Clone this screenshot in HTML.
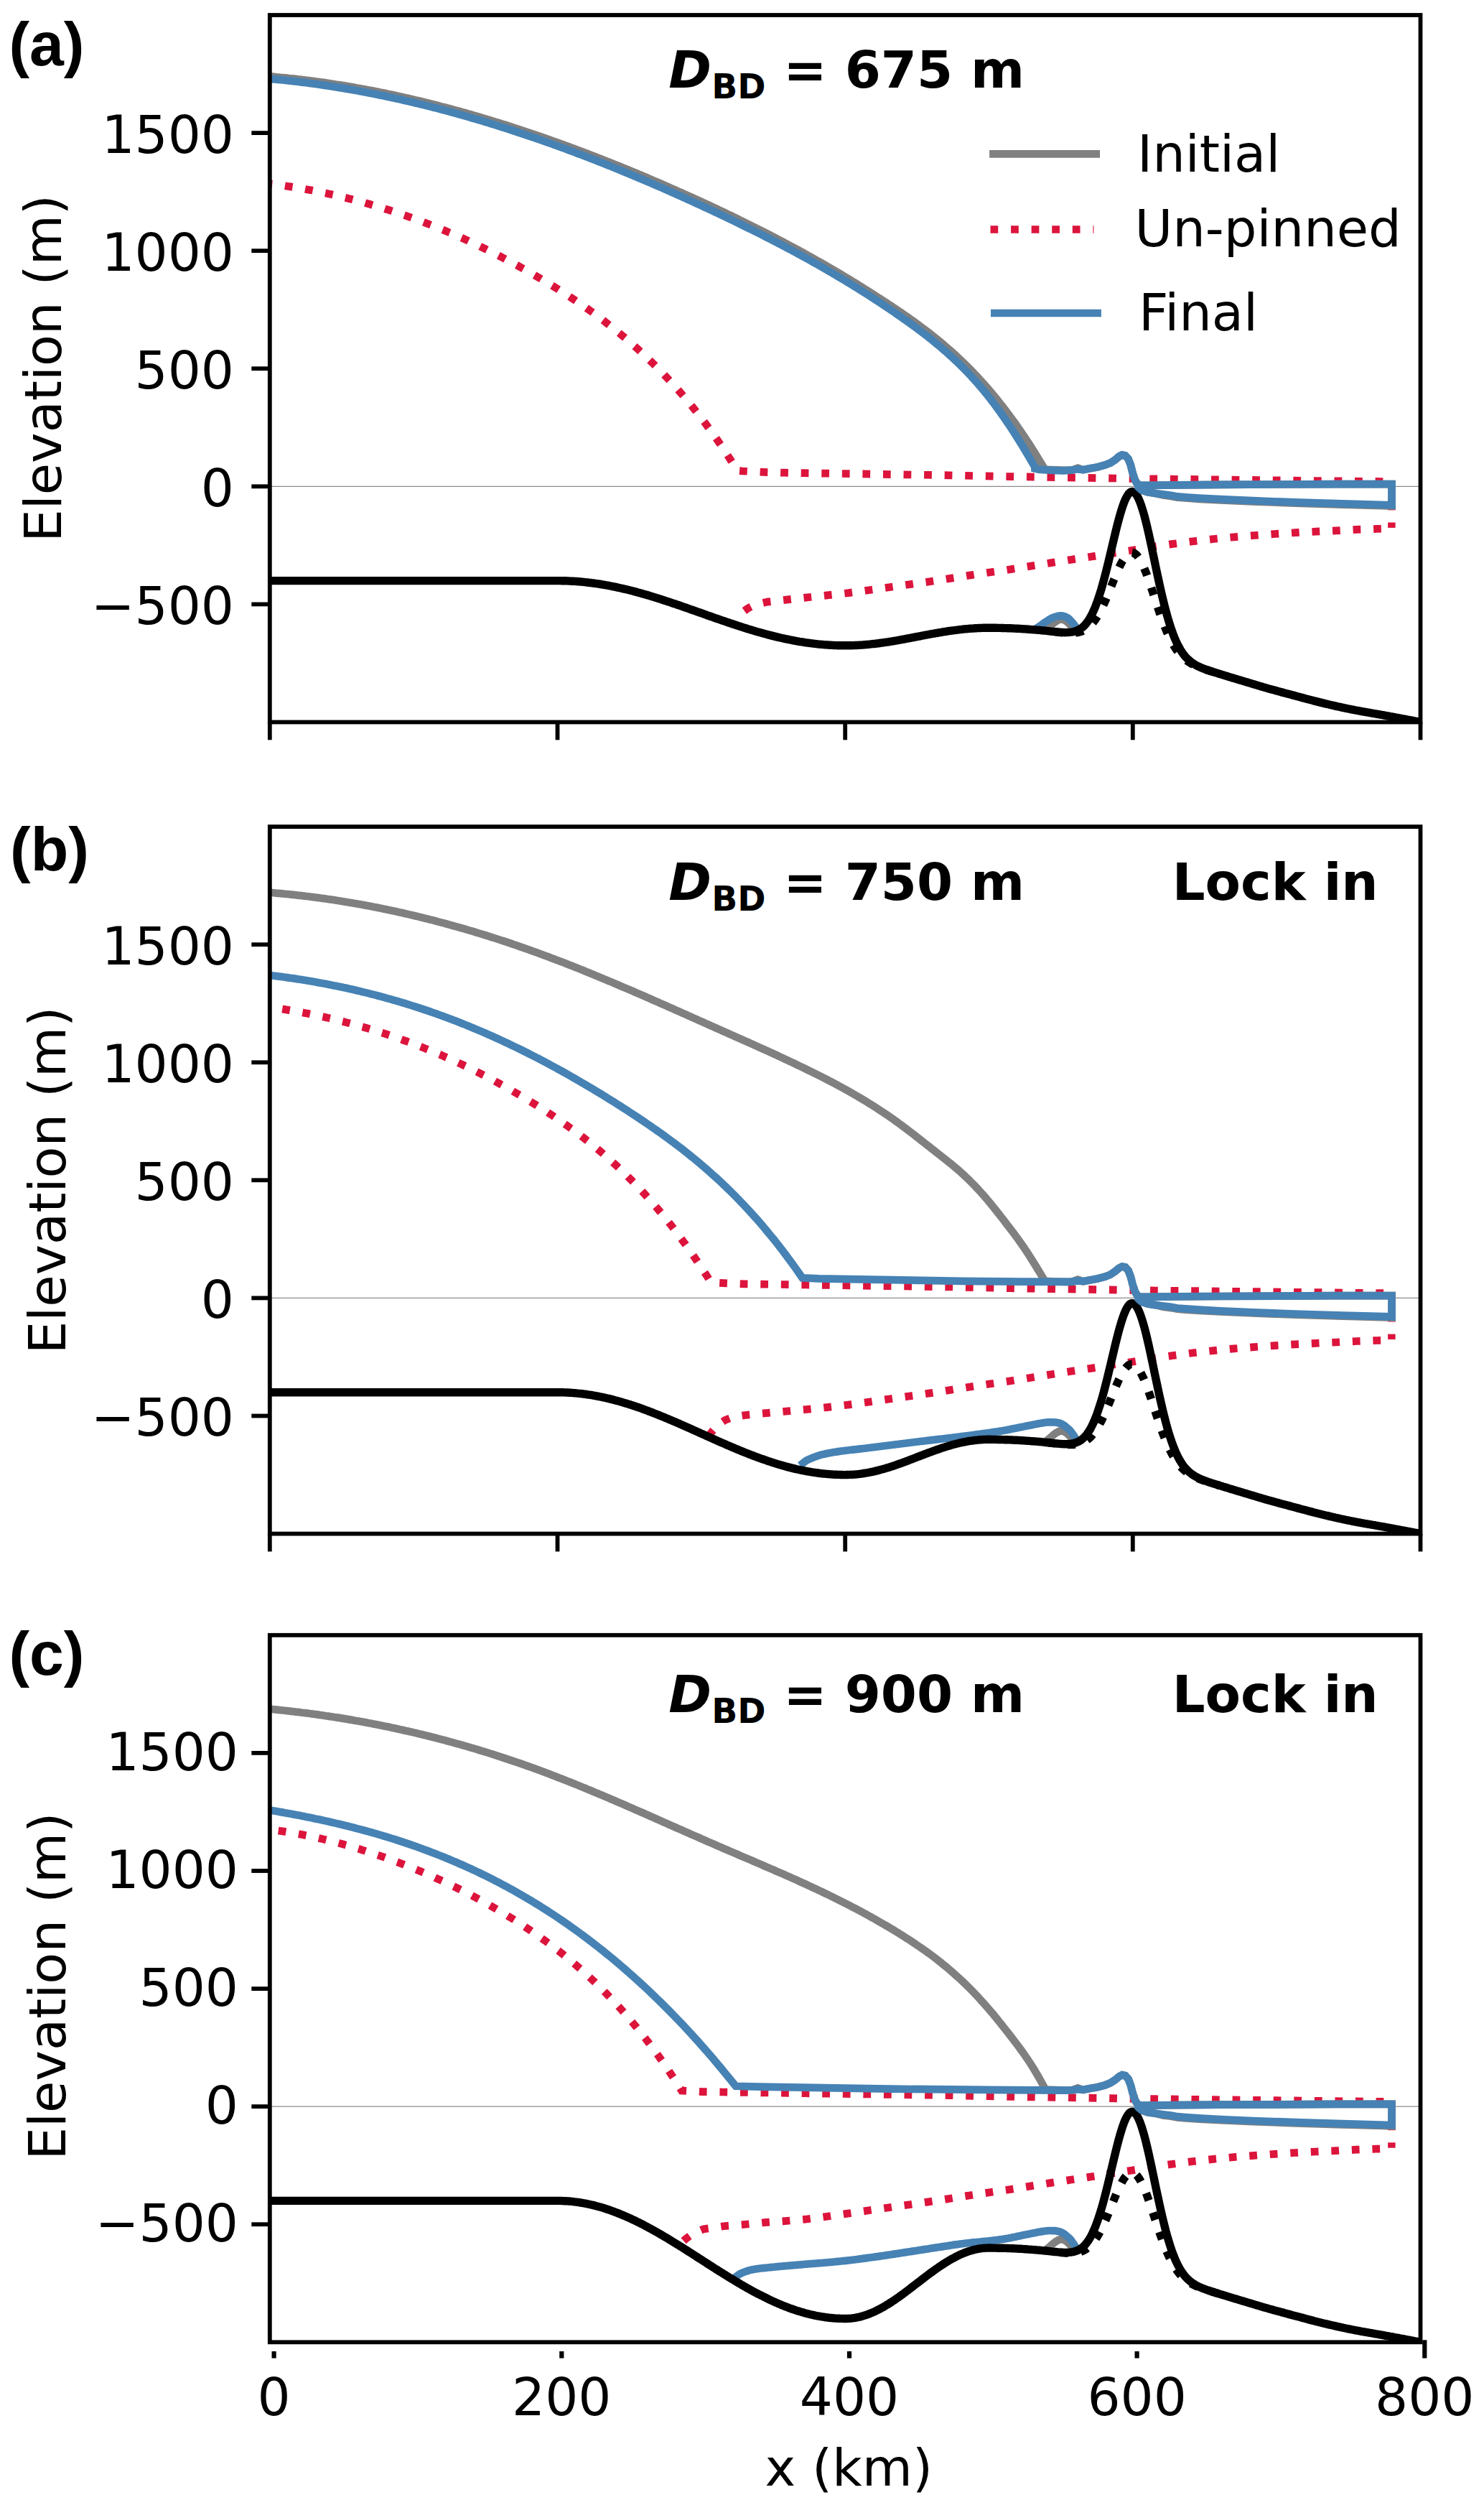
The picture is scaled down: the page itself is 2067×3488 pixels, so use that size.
<!DOCTYPE html>
<html><head><meta charset="utf-8"><title>Figure</title>
<style>html,body{margin:0;padding:0;background:#fff}svg{display:block}text{font-family:"DejaVu Sans","Liberation Sans",sans-serif;fill:#000}.h{font-family:"Liberation Sans",Arial,Helvetica,sans-serif;font-weight:bold}.b{font-weight:bold}.bi{font-weight:bold;font-style:italic}</style></head>
<body>
<svg width="2067" height="3488" viewBox="0 0 2067 3488">
<rect width="2067" height="3488" fill="#fff"/>
<g clip-path="url(#c0)">
<clipPath id="c0"><rect x="375.8" y="21.0" width="1602.7" height="984.5"/></clipPath>
<line x1="375.8" x2="1978.5" y1="677.3" y2="677.3" stroke="#8c8c8c" stroke-width="1.3"/>
<rect x="1933.1" y="727.5" width="10.5" height="7.4" fill="#dc143c"/>
<rect x="1933.1" y="708.2" width="10.7" height="2.2" fill="#dc143c"/>
<path d="M375.8,255.9 L378.8,256.3 L381.8,256.6 L384.8,257.0 L387.8,257.4 L390.8,257.9 L393.8,258.3 L396.8,258.7 L399.8,259.2 L402.8,259.6 L405.8,260.1 L408.8,260.6 L411.8,261.1 L414.8,261.6 L417.8,262.1 L420.8,262.6 L423.8,263.1 L426.8,263.7 L429.8,264.2 L432.8,264.8 L435.8,265.4 L438.8,266.0 L441.8,266.6 L444.8,267.2 L447.8,267.8 L450.8,268.4 L453.8,269.0 L456.8,269.7 L459.8,270.3 L462.8,271.0 L465.8,271.7 L468.8,272.4 L471.8,273.1 L474.8,273.8 L477.8,274.5 L480.8,275.3 L483.8,276.0 L486.8,276.8 L489.8,277.5 L492.8,278.3 L495.8,279.1 L498.8,279.9 L501.8,280.7 L504.8,281.5 L507.8,282.3 L510.8,283.2 L513.8,284.0 L516.8,284.9 L519.8,285.8 L522.8,286.7 L525.8,287.6 L528.8,288.5 L531.8,289.4 L534.8,290.3 L537.8,291.3 L540.9,292.2 L543.9,293.2 L546.9,294.2 L549.9,295.1 L552.9,296.1 L555.9,297.1 L558.9,298.2 L561.9,299.2 L564.9,300.2 L567.9,301.3 L570.9,302.3 L573.9,303.4 L576.9,304.5 L579.9,305.6 L582.9,306.7 L585.9,307.8 L588.9,308.9 L591.9,310.1 L594.9,311.2 L597.9,312.4 L600.9,313.6 L603.9,314.8 L606.9,315.9 L609.9,317.2 L612.9,318.4 L615.9,319.6 L618.9,320.8 L621.9,322.1 L624.9,323.4 L627.9,324.6 L630.9,325.9 L633.9,327.2 L636.9,328.5 L639.9,329.9 L642.9,331.2 L645.9,332.5 L648.9,333.9 L651.9,335.2 L654.9,336.6 L657.9,338.0 L660.9,339.4 L663.9,340.8 L666.9,342.2 L669.9,343.7 L672.9,345.1 L675.9,346.6 L678.9,348.1 L681.9,349.5 L684.9,351.0 L687.9,352.5 L690.9,354.0 L693.9,355.6 L696.9,357.1 L699.9,358.7 L702.9,360.2 L705.9,361.8 L708.9,363.4 L711.9,365.0 L714.9,366.6 L717.9,368.2 L720.9,369.8 L723.9,371.5 L726.9,373.1 L729.9,374.8 L732.9,376.5 L735.9,378.2 L738.9,379.9 L741.9,381.6 L744.9,383.3 L747.9,385.1 L750.9,386.8 L753.9,388.6 L756.9,390.3 L759.9,392.1 L762.9,393.9 L765.9,395.7 L768.9,397.6 L771.9,399.4 L774.9,401.3 L777.9,403.1 L780.9,405.0 L783.9,406.9 L786.9,408.8 L789.9,410.8 L792.9,412.7 L795.9,414.7 L798.9,416.7 L801.9,418.7 L804.9,420.7 L807.9,422.8 L810.9,424.8 L813.9,426.9 L816.9,429.0 L819.9,431.1 L822.9,433.3 L825.9,435.4 L828.9,437.6 L831.9,439.8 L834.9,442.1 L837.9,444.3 L840.9,446.6 L843.9,448.9 L846.9,451.3 L849.9,453.6 L852.9,456.0 L855.9,458.4 L858.9,460.8 L861.9,463.3 L865.0,465.8 L868.0,468.3 L871.0,470.8 L874.0,473.4 L877.0,476.0 L880.0,478.6 L883.0,481.3 L886.0,483.9 L889.0,486.7 L892.0,489.4 L895.0,492.2 L898.0,495.0 L901.0,497.8 L904.0,500.7 L907.0,503.6 L910.0,506.5 L913.0,509.5 L916.0,512.5 L919.0,515.5 L922.0,518.6 L925.0,521.7 L928.0,524.9 L931.0,528.1 L934.0,531.3 L937.0,534.6 L940.0,537.9 L943.0,541.2 L946.0,544.6 L949.0,548.0 L952.0,551.5 L955.0,555.0 L958.0,558.6 L961.0,562.2 L964.0,565.9 L967.0,569.6 L970.0,573.4 L973.0,577.2 L976.0,581.1 L979.0,585.0 L982.0,588.9 L985.0,593.0 L988.0,597.0 L991.0,601.2 L994.0,605.4 L997.0,609.6 L1000.0,613.9 L1003.0,618.3 L1006.0,622.7 L1009.0,627.2 L1012.0,631.7 L1015.0,636.3 L1018.0,641.0 L1021.0,645.7 L1024.0,650.5 L1027.0,655.4 L1035.1,656.0 L1063.8,657.4 L1092.4,658.2 L1121.1,658.7 L1322.0,661.8 L1407.0,663.6 L1500.0,665.1 L1610.0,666.9 L1900.0,670.3 L1938.5,670.7" fill="none" stroke="#dc143c" stroke-width="10.7" stroke-linejoin="miter" stroke-dasharray="10.75 17.82" stroke-dashoffset="7.30"/>
<path d="M1929.5,736.1 L1918.0,736.4 L1889.5,737.4 L1861.2,738.9 L1832.6,740.2 L1804.0,741.7 L1775.3,743.5 L1746.9,745.5 L1718.5,747.8 L1690.2,750.5 L1661.8,753.7 L1633.5,757.4 L1606.6,761.2 L1577.1,766.2 L1549.0,770.4 L1520.7,775.0 L1492.5,779.2 L1464.2,783.6 L1436.1,788.1 L1407.8,792.7 L1380.0,796.7 L1351.8,800.9 L1323.5,805.4 L1295.2,809.8 L1181.9,825.6 L1097.0,834.9 L1068.7,838.1 L1055.0,841.3 L1047.5,844.0 L1041.3,847.3 L1035.0,852.0 L1029.0,858.0" fill="none" stroke="#dc143c" stroke-width="10.7" stroke-linejoin="miter" stroke-dasharray="10.75 17.82" stroke-dashoffset="22.90"/>
<path d="M375.8,106.4 L378.8,106.7 L381.8,106.9 L384.8,107.2 L387.8,107.5 L390.8,107.8 L393.8,108.0 L396.8,108.3 L399.8,108.6 L402.8,109.0 L405.8,109.3 L408.8,109.6 L411.8,109.9 L414.8,110.3 L417.8,110.6 L420.9,111.0 L423.9,111.4 L426.9,111.7 L429.9,112.1 L432.9,112.5 L435.9,112.9 L438.9,113.3 L441.9,113.7 L444.9,114.1 L447.9,114.5 L450.9,114.9 L453.9,115.4 L456.9,115.8 L459.9,116.3 L462.9,116.7 L465.9,117.2 L468.9,117.7 L471.9,118.1 L474.9,118.6 L477.9,119.1 L480.9,119.6 L483.9,120.1 L486.9,120.6 L489.9,121.1 L492.9,121.6 L495.9,122.2 L498.9,122.7 L501.9,123.2 L504.9,123.8 L507.9,124.3 L511.0,124.9 L514.0,125.5 L517.0,126.0 L520.0,126.6 L523.0,127.2 L526.0,127.8 L529.0,128.4 L532.0,129.0 L535.0,129.6 L538.0,130.2 L541.0,130.9 L544.0,131.5 L547.0,132.1 L550.0,132.8 L553.0,133.4 L556.0,134.1 L559.0,134.8 L562.0,135.4 L565.0,136.1 L568.0,136.8 L571.0,137.5 L574.0,138.2 L577.0,138.9 L580.0,139.6 L583.0,140.3 L586.0,141.0 L589.0,141.7 L592.0,142.5 L595.0,143.2 L598.0,144.0 L601.1,144.7 L604.1,145.5 L607.1,146.2 L610.1,147.0 L613.1,147.8 L616.1,148.6 L619.1,149.3 L622.1,150.1 L625.1,150.9 L628.1,151.7 L631.1,152.6 L634.1,153.4 L637.1,154.2 L640.1,155.0 L643.1,155.9 L646.1,156.7 L649.1,157.5 L652.1,158.4 L655.1,159.2 L658.1,160.1 L661.1,161.0 L664.1,161.8 L667.1,162.7 L670.1,163.6 L673.1,164.5 L676.1,165.4 L679.1,166.3 L682.1,167.2 L685.1,168.1 L688.1,169.0 L691.2,170.0 L694.2,170.9 L697.2,171.8 L700.2,172.8 L703.2,173.7 L706.2,174.7 L709.2,175.6 L712.2,176.6 L715.2,177.6 L718.2,178.5 L721.2,179.5 L724.2,180.5 L727.2,181.5 L730.2,182.5 L733.2,183.5 L736.2,184.5 L739.2,185.5 L742.2,186.5 L745.2,187.5 L748.2,188.6 L751.2,189.6 L754.2,190.6 L757.2,191.7 L760.2,192.7 L763.2,193.8 L766.2,194.8 L769.2,195.9 L772.2,197.0 L775.2,198.1 L778.2,199.1 L781.3,200.2 L784.3,201.3 L787.3,202.4 L790.3,203.5 L793.3,204.6 L796.3,205.7 L799.3,206.8 L802.3,207.9 L805.3,209.1 L808.3,210.2 L811.3,211.3 L814.3,212.5 L817.3,213.6 L820.3,214.8 L823.3,215.9 L826.3,217.1 L829.3,218.2 L832.3,219.4 L835.3,220.6 L838.3,221.7 L841.3,222.9 L844.3,224.1 L847.3,225.3 L850.3,226.5 L853.3,227.7 L856.3,228.9 L859.3,230.1 L862.3,231.3 L865.3,232.5 L868.3,233.8 L871.4,235.0 L874.4,236.2 L877.4,237.5 L880.4,238.7 L883.4,239.9 L886.4,241.2 L889.4,242.5 L892.4,243.7 L895.4,245.0 L898.4,246.2 L901.4,247.5 L904.4,248.8 L907.4,250.1 L910.4,251.4 L913.4,252.6 L916.4,253.9 L919.4,255.2 L922.4,256.5 L925.4,257.8 L928.4,259.2 L931.4,260.5 L934.4,261.8 L937.4,263.1 L940.4,264.4 L943.4,265.8 L946.4,267.1 L949.4,268.4 L952.4,269.8 L955.4,271.1 L958.4,272.5 L961.5,273.8 L964.5,275.2 L967.5,276.6 L970.5,277.9 L973.5,279.3 L976.5,280.7 L979.5,282.1 L982.5,283.4 L985.5,284.8 L988.5,286.2 L991.5,287.6 L994.5,289.0 L997.5,290.4 L1000.5,291.9 L1003.5,293.3 L1006.5,294.7 L1009.5,296.1 L1012.5,297.6 L1015.5,299.0 L1018.5,300.4 L1021.5,301.9 L1024.5,303.3 L1027.5,304.8 L1030.5,306.3 L1033.5,307.7 L1036.5,309.2 L1039.5,310.7 L1042.5,312.2 L1045.5,313.7 L1048.5,315.2 L1051.6,316.7 L1054.6,318.2 L1057.6,319.7 L1060.6,321.2 L1063.6,322.7 L1066.6,324.3 L1069.6,325.8 L1072.6,327.4 L1075.6,328.9 L1078.6,330.5 L1081.6,332.0 L1084.6,333.6 L1087.6,335.2 L1090.6,336.8 L1093.6,338.4 L1096.6,340.0 L1099.6,341.6 L1102.6,343.2 L1105.6,344.8 L1108.6,346.4 L1111.6,348.0 L1114.6,349.7 L1117.6,351.3 L1120.6,353.0 L1123.6,354.6 L1126.6,356.3 L1129.6,358.0 L1132.6,359.7 L1135.6,361.4 L1138.6,363.1 L1141.7,364.8 L1144.7,366.5 L1147.7,368.2 L1150.7,369.9 L1153.7,371.7 L1156.7,373.4 L1159.7,375.1 L1162.7,376.9 L1165.7,378.7 L1168.7,380.4 L1171.7,382.2 L1174.7,384.0 L1177.7,385.8 L1180.7,387.6 L1183.7,389.4 L1186.7,391.3 L1189.7,393.1 L1192.7,394.9 L1195.7,396.8 L1198.7,398.7 L1201.7,400.5 L1204.7,402.4 L1207.7,404.3 L1210.7,406.2 L1213.7,408.1 L1216.7,410.0 L1219.7,411.9 L1222.7,413.9 L1225.7,415.8 L1228.7,417.7 L1231.8,419.7 L1234.8,421.7 L1237.8,423.7 L1240.8,425.6 L1243.8,427.6 L1246.8,429.6 L1249.8,431.7 L1252.8,433.7 L1255.8,435.7 L1258.8,437.8 L1261.8,439.9 L1264.8,442.0 L1267.8,444.1 L1270.8,446.2 L1273.8,448.4 L1276.8,450.6 L1279.8,452.8 L1282.8,455.0 L1285.8,457.2 L1288.8,459.5 L1291.8,461.8 L1294.8,464.1 L1297.8,466.5 L1300.8,468.9 L1303.8,471.3 L1306.8,473.7 L1309.8,476.2 L1312.8,478.7 L1315.8,481.3 L1318.8,483.8 L1321.9,486.5 L1324.9,489.1 L1327.9,491.8 L1330.9,494.5 L1333.9,497.3 L1336.9,500.1 L1339.9,503.0 L1342.9,505.9 L1345.9,508.8 L1348.9,511.8 L1351.9,514.8 L1354.9,517.9 L1357.9,521.1 L1360.9,524.2 L1363.9,527.5 L1366.9,530.8 L1369.9,534.1 L1372.9,537.5 L1375.9,540.9 L1378.9,544.4 L1381.9,548.0 L1384.9,551.6 L1387.9,555.2 L1390.9,559.0 L1393.9,562.8 L1396.9,566.6 L1399.9,570.5 L1402.9,574.5 L1405.9,578.5 L1408.9,582.6 L1412.0,586.7 L1415.0,590.9 L1418.0,595.2 L1421.0,599.5 L1424.0,603.9 L1427.0,608.4 L1430.0,612.9 L1433.0,617.5 L1436.0,622.2 L1439.0,626.9 L1442.0,631.7 L1445.0,636.5 L1448.0,641.5 L1451.0,646.4 L1454.0,651.5 L1457.0,653.8 L1470.0,654.4 L1485.0,654.8 L1493.5,654.6 L1497.5,653.0 L1501.3,651.6 L1505.0,653.0 L1508.5,654.2 L1528.5,650.4 L1539.3,647.5 L1546.8,644.5 L1553.3,640.2 L1558.7,635.6 L1563.0,633.4 L1567.3,634.3 L1571.6,639.1 L1574.9,647.7 L1577.6,658.5 L1580.8,668.2 L1584.0,673.6 L1587.8,675.6 L1598.6,675.8 L1640.0,675.3 L1700.0,674.9 L1860.0,674.1 L1938.5,674.0 L1938.5,704.5 L1870.0,702.6 L1804.3,700.6 L1745.0,698.4 L1700.0,696.4 L1670.0,694.8 L1651.4,693.5 L1640.0,692.6 L1631.0,691.0 L1620.2,689.6 L1609.4,687.0 L1598.6,685.4 L1590.0,682.5 L1585.5,678.5 L1583.7,676.0" fill="none" stroke="#808080" stroke-width="10.7" stroke-linejoin="miter" stroke-miterlimit="4" stroke-linecap="butt"/>
<path d="M1454.0,878.5 L1455.5,877.4 L1457.0,876.3 L1458.5,875.4 L1460.0,874.3 L1461.5,873.0 L1463.0,871.7 L1464.5,870.3 L1466.0,869.0 L1467.5,867.7 L1469.0,866.5 L1470.5,865.5 L1472.0,864.6 L1473.5,863.7 L1475.0,862.9 L1476.5,862.4 L1478.0,862.3 L1479.5,862.5 L1481.0,862.9 L1482.5,863.5 L1484.0,864.2 L1485.5,865.2 L1487.0,866.5 L1488.5,868.0 L1490.0,869.4 L1491.5,871.2 L1493.0,873.7 L1494.5,877.0" fill="none" stroke="#808080" stroke-width="10.7" stroke-linejoin="miter" stroke-miterlimit="4" stroke-linecap="butt"/>
<path d="M1439.0,877.8 L1440.5,876.8 L1442.0,875.8 L1443.5,874.9 L1445.0,873.9 L1446.6,872.9 L1448.1,871.9 L1449.6,870.8 L1451.1,869.7 L1452.6,868.6 L1454.1,867.5 L1455.6,866.5 L1457.1,865.5 L1458.7,864.5 L1460.2,863.5 L1461.7,862.5 L1463.2,861.6 L1464.7,860.8 L1466.2,860.1 L1467.7,859.6 L1469.2,859.1 L1470.8,858.6 L1472.3,858.2 L1473.8,857.8 L1475.3,857.5 L1476.8,857.4 L1478.3,857.4 L1479.8,857.5 L1481.3,857.9 L1482.9,858.4 L1484.4,859.0 L1485.9,859.7 L1487.4,860.5 L1488.9,861.7 L1490.4,863.2 L1491.9,864.8 L1493.4,866.5 L1495.0,868.3 L1496.5,870.3 L1498.0,872.4 L1499.5,874.8 L1501.0,877.5" fill="none" stroke="#4682b4" stroke-width="10.7" stroke-linejoin="miter" stroke-miterlimit="4" stroke-linecap="butt"/>
<path d="M375.8,808.6 L377.8,808.6 L379.8,808.6 L381.8,808.6 L383.8,808.6 L385.8,808.6 L387.8,808.6 L389.8,808.6 L391.8,808.6 L393.8,808.6 L395.8,808.6 L397.8,808.6 L399.8,808.6 L401.8,808.6 L403.8,808.6 L405.9,808.6 L407.9,808.6 L409.9,808.6 L411.9,808.6 L413.9,808.6 L415.9,808.6 L417.9,808.6 L419.9,808.6 L421.9,808.6 L423.9,808.6 L425.9,808.6 L427.9,808.6 L429.9,808.6 L431.9,808.6 L433.9,808.6 L435.9,808.6 L437.9,808.6 L439.9,808.6 L441.9,808.6 L443.9,808.6 L445.9,808.6 L447.9,808.6 L449.9,808.6 L451.9,808.6 L453.9,808.6 L455.9,808.6 L457.9,808.6 L459.9,808.6 L461.9,808.6 L463.9,808.6 L466.0,808.6 L468.0,808.6 L470.0,808.6 L472.0,808.6 L474.0,808.6 L476.0,808.6 L478.0,808.6 L480.0,808.6 L482.0,808.6 L484.0,808.6 L486.0,808.6 L488.0,808.6 L490.0,808.6 L492.0,808.6 L494.0,808.6 L496.0,808.6 L498.0,808.6 L500.0,808.6 L502.0,808.6 L504.0,808.6 L506.0,808.6 L508.0,808.6 L510.0,808.6 L512.0,808.6 L514.0,808.6 L516.0,808.6 L518.0,808.6 L520.0,808.6 L522.0,808.6 L524.0,808.6 L526.1,808.6 L528.1,808.6 L530.1,808.6 L532.1,808.6 L534.1,808.6 L536.1,808.6 L538.1,808.6 L540.1,808.6 L542.1,808.6 L544.1,808.6 L546.1,808.6 L548.1,808.6 L550.1,808.6 L552.1,808.6 L554.1,808.6 L556.1,808.6 L558.1,808.6 L560.1,808.6 L562.1,808.6 L564.1,808.6 L566.1,808.6 L568.1,808.6 L570.1,808.6 L572.1,808.6 L574.1,808.6 L576.1,808.6 L578.1,808.6 L580.1,808.6 L582.1,808.6 L584.2,808.6 L586.2,808.6 L588.2,808.6 L590.2,808.6 L592.2,808.6 L594.2,808.6 L596.2,808.6 L598.2,808.6 L600.2,808.6 L602.2,808.6 L604.2,808.6 L606.2,808.6 L608.2,808.6 L610.2,808.6 L612.2,808.6 L614.2,808.6 L616.2,808.6 L618.2,808.6 L620.2,808.6 L622.2,808.6 L624.2,808.6 L626.2,808.6 L628.2,808.6 L630.2,808.6 L632.2,808.6 L634.2,808.6 L636.2,808.6 L638.2,808.6 L640.2,808.6 L642.2,808.6 L644.3,808.6 L646.3,808.6 L648.3,808.6 L650.3,808.6 L652.3,808.6 L654.3,808.6 L656.3,808.6 L658.3,808.6 L660.3,808.6 L662.3,808.6 L664.3,808.6 L666.3,808.6 L668.3,808.6 L670.3,808.6 L672.3,808.6 L674.3,808.6 L676.3,808.6 L678.3,808.6 L680.3,808.6 L682.3,808.6 L684.3,808.6 L686.3,808.6 L688.3,808.6 L690.3,808.6 L692.3,808.6 L694.3,808.6 L696.3,808.6 L698.3,808.6 L700.3,808.6 L702.4,808.6 L704.4,808.6 L706.4,808.6 L708.4,808.6 L710.4,808.6 L712.4,808.6 L714.4,808.6 L716.4,808.6 L718.4,808.6 L720.4,808.6 L722.4,808.6 L724.4,808.6 L726.4,808.6 L728.4,808.6 L730.4,808.6 L732.4,808.6 L734.4,808.6 L736.4,808.6 L738.4,808.6 L740.4,808.6 L742.4,808.6 L744.4,808.6 L746.4,808.6 L748.4,808.6 L750.4,808.6 L752.4,808.6 L754.4,808.6 L756.4,808.6 L758.4,808.6 L760.4,808.6 L762.5,808.6 L764.5,808.6 L766.5,808.6 L768.5,808.6 L770.5,808.6 L772.5,808.6 L774.5,808.6 L776.5,808.6 L778.5,808.6 L780.5,808.6 L782.5,808.7 L784.5,808.7 L786.5,808.7 L788.5,808.8 L790.5,808.9 L792.5,809.0 L794.5,809.1 L796.5,809.2 L798.5,809.3 L800.5,809.4 L802.5,809.5 L804.5,809.7 L806.5,809.8 L808.5,810.0 L810.5,810.2 L812.5,810.4 L814.5,810.6 L816.5,810.8 L818.5,811.0 L820.5,811.3 L822.6,811.5 L824.6,811.8 L826.6,812.0 L828.6,812.3 L830.6,812.6 L832.6,812.9 L834.6,813.2 L836.6,813.5 L838.6,813.8 L840.6,814.2 L842.6,814.5 L844.6,814.9 L846.6,815.2 L848.6,815.6 L850.6,816.0 L852.6,816.4 L854.6,816.8 L856.6,817.2 L858.6,817.6 L860.6,818.1 L862.6,818.5 L864.6,819.0 L866.6,819.4 L868.6,819.9 L870.6,820.3 L872.6,820.8 L874.6,821.3 L876.6,821.8 L878.6,822.3 L880.7,822.8 L882.7,823.4 L884.7,823.9 L886.7,824.4 L888.7,825.0 L890.7,825.5 L892.7,826.1 L894.7,826.6 L896.7,827.2 L898.7,827.8 L900.7,828.4 L902.7,828.9 L904.7,829.5 L906.7,830.1 L908.7,830.8 L910.7,831.4 L912.7,832.0 L914.7,832.6 L916.7,833.2 L918.7,833.9 L920.7,834.5 L922.7,835.2 L924.7,835.8 L926.7,836.5 L928.7,837.1 L930.7,837.8 L932.7,838.4 L934.7,839.1 L936.7,839.8 L938.7,840.5 L940.8,841.1 L942.8,841.8 L944.8,842.5 L946.8,843.2 L948.8,843.9 L950.8,844.6 L952.8,845.3 L954.8,846.0 L956.8,846.7 L958.8,847.4 L960.8,848.1 L962.8,848.8 L964.8,849.5 L966.8,850.2 L968.8,850.9 L970.8,851.6 L972.8,852.3 L974.8,853.0 L976.8,853.7 L978.8,854.4 L980.8,855.1 L982.8,855.8 L984.8,856.6 L986.8,857.3 L988.8,858.0 L990.8,858.7 L992.8,859.4 L994.8,860.1 L996.8,860.8 L998.8,861.5 L1000.9,862.2 L1002.9,862.9 L1004.9,863.6 L1006.9,864.3 L1008.9,864.9 L1010.9,865.6 L1012.9,866.3 L1014.9,867.0 L1016.9,867.7 L1018.9,868.3 L1020.9,869.0 L1022.9,869.7 L1024.9,870.3 L1026.9,871.0 L1028.9,871.6 L1030.9,872.3 L1032.9,872.9 L1034.9,873.6 L1036.9,874.2 L1038.9,874.8 L1040.9,875.5 L1042.9,876.1 L1044.9,876.7 L1046.9,877.3 L1048.9,877.9 L1050.9,878.5 L1052.9,879.1 L1054.9,879.7 L1056.9,880.2 L1059.0,880.8 L1061.0,881.4 L1063.0,881.9 L1065.0,882.5 L1067.0,883.0 L1069.0,883.6 L1071.0,884.1 L1073.0,884.6 L1075.0,885.1 L1077.0,885.6 L1079.0,886.1 L1081.0,886.6 L1083.0,887.1 L1085.0,887.6 L1087.0,888.0 L1089.0,888.5 L1091.0,888.9 L1093.0,889.4 L1095.0,889.8 L1097.0,890.2 L1099.0,890.6 L1101.0,891.0 L1103.0,891.4 L1105.0,891.8 L1107.0,892.2 L1109.0,892.6 L1111.0,892.9 L1113.0,893.3 L1115.0,893.6 L1117.0,893.9 L1119.1,894.2 L1121.1,894.6 L1123.1,894.8 L1125.1,895.1 L1127.1,895.4 L1129.1,895.7 L1131.1,895.9 L1133.1,896.2 L1135.1,896.4 L1137.1,896.6 L1139.1,896.9 L1141.1,897.1 L1143.1,897.2 L1145.1,897.4 L1147.1,897.6 L1149.1,897.8 L1151.1,897.9 L1153.1,898.0 L1155.1,898.2 L1157.1,898.3 L1159.1,898.4 L1161.1,898.5 L1163.1,898.6 L1165.1,898.6 L1167.1,898.7 L1169.1,898.8 L1171.1,898.8 L1173.1,898.8 L1175.1,898.8 L1177.2,898.8 L1179.2,898.8 L1181.2,898.8 L1183.2,898.8 L1185.2,898.7 L1187.2,898.7 L1189.2,898.6 L1191.2,898.5 L1193.2,898.5 L1195.2,898.4 L1197.2,898.2 L1199.2,898.1 L1201.2,898.0 L1203.2,897.8 L1205.2,897.7 L1207.2,897.5 L1209.2,897.3 L1211.2,897.1 L1213.2,896.9 L1215.2,896.7 L1217.2,896.5 L1219.2,896.3 L1221.2,896.0 L1223.2,895.8 L1225.2,895.5 L1227.2,895.2 L1229.2,895.0 L1231.2,894.7 L1233.2,894.4 L1235.2,894.1 L1237.3,893.8 L1239.3,893.5 L1241.3,893.1 L1243.3,892.8 L1245.3,892.5 L1247.3,892.1 L1249.3,891.8 L1251.3,891.4 L1253.3,891.1 L1255.3,890.7 L1257.3,890.3 L1259.3,890.0 L1261.3,889.6 L1263.3,889.2 L1265.3,888.8 L1267.3,888.5 L1269.3,888.1 L1271.3,887.7 L1273.3,887.3 L1275.3,886.9 L1277.3,886.5 L1279.3,886.2 L1281.3,885.8 L1283.3,885.4 L1285.3,885.0 L1287.3,884.6 L1289.3,884.2 L1291.3,883.9 L1293.3,883.5 L1295.3,883.1 L1297.4,882.7 L1299.4,882.4 L1301.4,882.0 L1303.4,881.7 L1305.4,881.3 L1307.4,881.0 L1309.4,880.6 L1311.4,880.3 L1313.4,879.9 L1315.4,879.6 L1317.4,879.3 L1319.4,879.0 L1321.4,878.7 L1323.4,878.4 L1325.4,878.1 L1327.4,877.8 L1329.4,877.6 L1331.4,877.3 L1333.4,877.1 L1335.4,876.8 L1337.4,876.6 L1339.4,876.4 L1341.4,876.1 L1343.4,875.9 L1345.4,875.8 L1347.4,875.6 L1349.4,875.4 L1351.4,875.2 L1353.4,875.1 L1355.5,875.0 L1357.5,874.8 L1359.5,874.7 L1361.5,874.6 L1363.5,874.5 L1365.5,874.5 L1367.5,874.4 L1369.5,874.3 L1371.5,874.3 L1373.5,874.3 L1375.5,874.2 L1377.5,874.2 L1379.5,874.2 L1381.5,874.3 L1383.5,874.3 L1385.5,874.3 L1387.5,874.3 L1389.5,874.4 L1391.5,874.4 L1393.5,874.4 L1395.5,874.5 L1397.5,874.5 L1399.5,874.6 L1401.5,874.6 L1403.5,874.7 L1405.5,874.8 L1407.5,874.8 L1409.5,874.9 L1411.5,875.0 L1413.5,875.1 L1415.6,875.2 L1417.6,875.3 L1419.6,875.4 L1421.6,875.5 L1423.6,875.6 L1425.6,875.8 L1427.6,875.9 L1429.6,876.0 L1431.6,876.2 L1433.6,876.3 L1435.6,876.5 L1437.6,876.6 L1439.6,876.8 L1441.6,876.9 L1443.6,877.1 L1445.6,877.3 L1447.6,877.4 L1449.6,877.6 L1451.6,877.8 L1453.6,878.0 L1455.6,878.2 L1457.6,878.4 L1459.6,878.6 L1461.6,878.8 L1463.6,879.1 L1465.6,879.3 L1467.6,879.5 L1469.6,879.7 L1471.6,879.9 L1473.6,880.1 L1475.7,880.3 L1477.7,880.4 L1479.7,880.5 L1481.7,880.6 L1483.7,880.7 L1485.7,880.6 L1487.7,880.6 L1489.7,880.4 L1491.7,880.2 L1493.7,879.9 L1495.7,879.5 L1497.7,878.9 L1499.7,878.2 L1501.7,877.4 L1503.7,876.3 L1505.7,875.0 L1507.7,873.5 L1509.7,871.7 L1511.7,869.6 L1513.7,867.1 L1515.7,864.4 L1517.7,861.2 L1519.7,857.7 L1521.7,853.7 L1523.7,849.4 L1525.7,844.6 L1527.7,839.3 L1529.7,833.6 L1531.7,827.5 L1533.8,820.9 L1535.8,813.9 L1537.8,806.6 L1539.8,798.9 L1541.8,791.0 L1543.8,782.8 L1545.8,774.4 L1547.8,766.0 L1549.8,757.5 L1551.8,749.1 L1553.8,740.8 L1555.8,732.7 L1557.8,725.0 L1559.8,717.7 L1561.8,711.0 L1563.8,704.8 L1565.8,699.3 L1567.8,694.6 L1569.8,690.8 L1571.8,687.8 L1573.8,685.7 L1575.8,684.6 L1577.8,684.5 L1579.8,685.5 L1581.8,687.4 L1583.8,690.3 L1585.8,694.2 L1587.8,698.9 L1589.8,704.5 L1591.8,710.9 L1593.9,718.0 L1595.9,725.8 L1597.9,734.0 L1599.9,742.7 L1601.9,751.8 L1603.9,761.1 L1605.9,770.6 L1607.9,780.2 L1609.9,789.8 L1611.9,799.2 L1613.9,808.5 L1615.9,817.6 L1617.9,826.5 L1619.9,834.9 L1621.9,843.1 L1623.9,850.8 L1625.9,858.1 L1627.9,864.9 L1629.9,871.3 L1631.9,877.3 L1633.9,882.8 L1635.9,887.9 L1637.9,892.6 L1639.9,896.8 L1641.9,900.7 L1643.9,904.2 L1645.9,907.4 L1647.9,910.3 L1649.9,912.9 L1651.9,915.2 L1654.0,917.3 L1656.0,919.2 L1658.0,920.9 L1660.0,922.5 L1662.0,923.8 L1664.0,925.1 L1666.0,926.3 L1668.0,927.3 L1670.0,928.3 L1672.0,929.2 L1674.0,930.1 L1676.0,930.9 L1678.0,931.6 L1680.0,932.3 L1682.0,933.0 L1684.0,933.7 L1686.0,934.4 L1688.0,935.0 L1690.0,935.7 L1692.0,936.3 L1694.0,936.9 L1696.0,937.5 L1698.0,938.2 L1700.0,938.8 L1702.0,939.4 L1704.0,940.0 L1706.0,940.6 L1708.0,941.2 L1710.0,941.8 L1712.1,942.5 L1714.1,943.1 L1716.1,943.7 L1718.1,944.3 L1720.1,944.9 L1722.1,945.5 L1724.1,946.1 L1726.1,946.7 L1728.1,947.3 L1730.1,947.9 L1732.1,948.5 L1734.1,949.1 L1736.1,949.7 L1738.1,950.3 L1740.1,950.9 L1742.1,951.5 L1744.1,952.1 L1746.1,952.7 L1748.1,953.3 L1750.1,953.9 L1752.1,954.5 L1754.1,955.1 L1756.1,955.7 L1758.1,956.3 L1760.1,956.9 L1762.1,957.5 L1764.1,958.0 L1766.1,958.6 L1768.1,959.2 L1770.1,959.7 L1772.2,960.3 L1774.2,960.8 L1776.2,961.4 L1778.2,961.9 L1780.2,962.5 L1782.2,963.0 L1784.2,963.6 L1786.2,964.1 L1788.2,964.6 L1790.2,965.2 L1792.2,965.7 L1794.2,966.3 L1796.2,966.8 L1798.2,967.3 L1800.2,967.9 L1802.2,968.4 L1804.2,968.9 L1806.2,969.5 L1808.2,970.0 L1810.2,970.5 L1812.2,971.1 L1814.2,971.6 L1816.2,972.1 L1818.2,972.7 L1820.2,973.2 L1822.2,973.8 L1824.2,974.3 L1826.2,974.8 L1828.2,975.3 L1830.3,975.9 L1832.3,976.4 L1834.3,976.9 L1836.3,977.4 L1838.3,977.9 L1840.3,978.4 L1842.3,978.9 L1844.3,979.4 L1846.3,979.9 L1848.3,980.3 L1850.3,980.8 L1852.3,981.3 L1854.3,981.7 L1856.3,982.2 L1858.3,982.6 L1860.3,983.1 L1862.3,983.6 L1864.3,984.0 L1866.3,984.4 L1868.3,984.9 L1870.3,985.3 L1872.3,985.7 L1874.3,986.2 L1876.3,986.6 L1878.3,987.0 L1880.3,987.4 L1882.3,987.8 L1884.3,988.2 L1886.3,988.6 L1888.3,989.0 L1890.4,989.4 L1892.4,989.7 L1894.4,990.1 L1896.4,990.5 L1898.4,990.8 L1900.4,991.2 L1902.4,991.5 L1904.4,991.9 L1906.4,992.2 L1908.4,992.6 L1910.4,992.9 L1912.4,993.3 L1914.4,993.6 L1916.4,994.0 L1918.4,994.3 L1920.4,994.7 L1922.4,995.0 L1924.4,995.4 L1926.4,995.7 L1928.4,996.1 L1930.4,996.5 L1932.4,996.8 L1934.4,997.2 L1936.4,997.6 L1938.4,997.9 L1940.4,998.3 L1942.4,998.7 L1944.4,999.1 L1946.4,999.4 L1948.4,999.8 L1950.5,1000.2 L1952.5,1000.6 L1954.5,1000.9 L1956.5,1001.3 L1958.5,1001.7 L1960.5,1002.1 L1962.5,1002.4 L1964.5,1002.8 L1966.5,1003.2 L1968.5,1003.6 L1970.5,1004.0 L1972.5,1004.3 L1974.5,1004.7 L1976.5,1005.1 L1978.5,1005.5" fill="none" stroke="#000" stroke-width="11.4" stroke-linejoin="round" stroke-linecap="butt"/>
<path d="M1457.6,878.4 L1458.6,878.5 L1459.6,878.6 L1460.6,878.8 L1461.6,878.9 L1462.6,879.0 L1463.6,879.1 L1464.6,879.2 L1465.6,879.3 L1466.6,879.5 L1467.6,879.6 L1468.6,879.7 L1469.6,879.8 L1470.6,879.9 L1471.6,880.0 L1472.6,880.1 L1473.6,880.3 L1474.7,880.4 L1475.7,880.5 L1476.7,880.6 L1477.7,880.7 L1478.7,880.8 L1479.7,880.9 L1480.7,881.0 L1481.7,881.0 L1482.7,881.1 L1483.7,881.2 L1484.7,881.3 L1485.7,881.3 L1486.7,881.4 L1487.7,881.4 L1488.7,881.4 L1489.7,881.4 L1490.7,881.5 L1491.7,881.5 L1492.7,881.4 L1493.7,881.4 L1494.7,881.4 L1495.7,881.3 L1496.7,881.2 L1497.7,881.1 L1498.7,881.0 L1499.7,880.8 L1500.7,880.7 L1501.7,880.5 L1502.7,880.2 L1503.7,880.0 L1504.7,879.7 L1505.7,879.3 L1506.7,879.0 L1507.7,878.6 L1508.7,878.1 L1509.7,877.6 L1510.7,877.1 L1511.7,876.5 L1512.7,875.9 L1513.7,875.2 L1514.7,874.5 L1515.7,873.7 L1516.7,872.9 L1517.7,872.0 L1518.7,871.0 L1519.7,870.0 L1520.7,868.9 L1521.7,867.8 L1522.7,866.5 L1523.7,865.3 L1524.7,863.9 L1525.7,862.5 L1526.7,861.0 L1527.7,859.5 L1528.7,857.9 L1529.7,856.2 L1530.7,854.4 L1531.7,852.6 L1532.7,850.7 L1533.8,848.8 L1534.8,846.8 L1535.8,844.7 L1536.8,842.6 L1537.8,840.4 L1538.8,838.2 L1539.8,835.9 L1540.8,833.6 L1541.8,831.2 L1542.8,828.8 L1543.8,826.4 L1544.8,824.0 L1545.8,821.5 L1546.8,819.0 L1547.8,816.5 L1548.8,814.0 L1549.8,811.5 L1550.8,809.0 L1551.8,806.5 L1552.8,804.1 L1553.8,801.7 L1554.8,799.3 L1555.8,796.9 L1556.8,794.6 L1557.8,792.4 L1558.8,790.2 L1559.8,788.1 L1560.8,786.1 L1561.8,784.2 L1562.8,782.3 L1563.8,780.6 L1564.8,779.0 L1565.8,777.4 L1566.8,776.0 L1567.8,774.8 L1568.8,773.6 L1569.8,772.6 L1570.8,771.7 L1571.8,770.9 L1572.8,770.3 L1573.8,769.9 L1574.8,769.6 L1575.8,769.4 L1576.8,769.4 L1577.8,769.6 L1578.8,769.9 L1579.8,770.3 L1580.8,771.0 L1581.8,771.7 L1582.8,772.6 L1583.8,773.7 L1584.8,774.9 L1585.8,776.3 L1586.8,777.8 L1587.8,779.4 L1588.8,781.2 L1589.8,783.1 L1590.8,785.1 L1591.8,787.2 L1592.9,789.4 L1593.9,791.8 L1594.9,794.2 L1595.9,796.7 L1596.9,799.3 L1597.9,802.0 L1598.9,804.8 L1599.9,807.6 L1600.9,810.4 L1601.9,813.4 L1602.9,816.3 L1603.9,819.3 L1604.9,822.3 L1605.9,825.3 L1606.9,828.4 L1607.9,831.4 L1608.9,834.5 L1609.9,837.5 L1610.9,840.5 L1611.9,843.5 L1612.9,846.5 L1613.9,849.5 L1614.9,852.4 L1615.9,855.3 L1616.9,858.1 L1617.9,860.9 L1618.9,863.6 L1619.9,866.3 L1620.9,868.9 L1621.9,871.5 L1622.9,874.0 L1623.9,876.5 L1624.9,878.8 L1625.9,881.2 L1626.9,883.4 L1627.9,885.6 L1628.9,887.7 L1629.9,889.7 L1630.9,891.7 L1631.9,893.6 L1632.9,895.4 L1633.9,897.2 L1634.9,898.9 L1635.9,900.5 L1636.9,902.1 L1637.9,903.6 L1638.9,905.1 L1639.9,906.5 L1640.9,907.8 L1641.9,909.0 L1642.9,910.3 L1643.9,911.4 L1644.9,912.5 L1645.9,913.6 L1646.9,914.6 L1647.9,915.6 L1648.9,916.5 L1649.9,917.4 L1650.9,918.2 L1651.9,919.0 L1653.0,919.8 L1654.0,920.5 L1655.0,921.2 L1656.0,921.9 L1657.0,922.5 L1658.0,923.2 L1659.0,923.8 L1660.0,924.3 L1661.0,924.9 L1662.0,925.4 L1663.0,925.9 L1664.0,926.4 L1665.0,926.9 L1666.0,927.3 L1667.0,927.8 L1668.0,928.2 L1669.0,928.6 L1670.0,929.0 L1671.0,929.4 L1672.0,929.8 L1673.0,930.1 L1674.0,930.5 L1675.0,930.9 L1676.0,931.2 L1677.0,931.6 L1678.0,931.9 L1679.0,932.2 L1680.0,932.6 L1681.0,932.9 L1682.0,933.2 L1683.0,933.5 L1684.0,933.9 L1685.0,934.2 L1686.0,934.5 L1687.0,934.8 L1688.0,935.1 L1689.0,935.4 L1690.0,935.7 L1691.0,936.0 L1692.0,936.3 L1693.0,936.6 L1694.0,937.0 L1695.0,937.3 L1696.0,937.6 L1697.0,937.9 L1698.0,938.2" fill="none" stroke="#000" stroke-width="11.4" stroke-linejoin="round" stroke-dasharray="10.8 17.8" stroke-dashoffset="16.5"/>
<path d="M375.8,109.8 L378.8,110.1 L381.8,110.3 L384.8,110.6 L387.8,110.9 L390.8,111.2 L393.8,111.5 L396.8,111.8 L399.8,112.1 L402.8,112.5 L405.8,112.8 L408.8,113.1 L411.8,113.5 L414.8,113.8 L417.8,114.2 L420.8,114.6 L423.8,114.9 L426.8,115.3 L429.8,115.7 L432.8,116.1 L435.8,116.5 L438.8,116.9 L441.8,117.3 L444.8,117.8 L447.8,118.2 L450.8,118.6 L453.9,119.1 L456.9,119.5 L459.9,120.0 L462.9,120.5 L465.9,120.9 L468.9,121.4 L471.9,121.9 L474.9,122.4 L477.9,122.9 L480.9,123.4 L483.9,123.9 L486.9,124.4 L489.9,124.9 L492.9,125.5 L495.9,126.0 L498.9,126.6 L501.9,127.1 L504.9,127.7 L507.9,128.2 L510.9,128.8 L513.9,129.4 L516.9,130.0 L519.9,130.6 L522.9,131.1 L525.9,131.8 L528.9,132.4 L531.9,133.0 L534.9,133.6 L537.9,134.2 L540.9,134.9 L543.9,135.5 L546.9,136.2 L549.9,136.8 L552.9,137.5 L555.9,138.1 L558.9,138.8 L561.9,139.5 L564.9,140.2 L567.9,140.9 L570.9,141.6 L573.9,142.3 L576.9,143.0 L579.9,143.7 L582.9,144.4 L585.9,145.2 L588.9,145.9 L591.9,146.6 L594.9,147.4 L597.9,148.1 L600.9,148.9 L603.9,149.7 L607.0,150.4 L610.0,151.2 L613.0,152.0 L616.0,152.8 L619.0,153.6 L622.0,154.4 L625.0,155.2 L628.0,156.0 L631.0,156.8 L634.0,157.7 L637.0,158.5 L640.0,159.3 L643.0,160.2 L646.0,161.0 L649.0,161.9 L652.0,162.7 L655.0,163.6 L658.0,164.5 L661.0,165.3 L664.0,166.2 L667.0,167.1 L670.0,168.0 L673.0,168.9 L676.0,169.8 L679.0,170.7 L682.0,171.6 L685.0,172.6 L688.0,173.5 L691.0,174.4 L694.0,175.4 L697.0,176.3 L700.0,177.3 L703.0,178.2 L706.0,179.2 L709.0,180.1 L712.0,181.1 L715.0,182.1 L718.0,183.1 L721.0,184.1 L724.0,185.1 L727.0,186.1 L730.0,187.1 L733.0,188.1 L736.0,189.1 L739.0,190.1 L742.0,191.1 L745.0,192.2 L748.0,193.2 L751.0,194.2 L754.0,195.3 L757.1,196.3 L760.1,197.4 L763.1,198.5 L766.1,199.5 L769.1,200.6 L772.1,201.7 L775.1,202.8 L778.1,203.8 L781.1,204.9 L784.1,206.0 L787.1,207.1 L790.1,208.3 L793.1,209.4 L796.1,210.5 L799.1,211.6 L802.1,212.7 L805.1,213.9 L808.1,215.0 L811.1,216.1 L814.1,217.3 L817.1,218.4 L820.1,219.6 L823.1,220.8 L826.1,221.9 L829.1,223.1 L832.1,224.3 L835.1,225.5 L838.1,226.6 L841.1,227.8 L844.1,229.0 L847.1,230.2 L850.1,231.4 L853.1,232.6 L856.1,233.9 L859.1,235.1 L862.1,236.3 L865.1,237.5 L868.1,238.8 L871.1,240.0 L874.1,241.2 L877.1,242.5 L880.1,243.7 L883.1,245.0 L886.1,246.2 L889.1,247.5 L892.1,248.8 L895.1,250.0 L898.1,251.3 L901.1,252.6 L904.1,253.9 L907.1,255.2 L910.2,256.5 L913.2,257.8 L916.2,259.1 L919.2,260.4 L922.2,261.7 L925.2,263.0 L928.2,264.3 L931.2,265.7 L934.2,267.0 L937.2,268.3 L940.2,269.7 L943.2,271.0 L946.2,272.3 L949.2,273.7 L952.2,275.1 L955.2,276.4 L958.2,277.8 L961.2,279.1 L964.2,280.5 L967.2,281.9 L970.2,283.3 L973.2,284.6 L976.2,286.0 L979.2,287.4 L982.2,288.8 L985.2,290.2 L988.2,291.6 L991.2,293.0 L994.2,294.4 L997.2,295.8 L1000.2,297.3 L1003.2,298.7 L1006.2,300.1 L1009.2,301.5 L1012.2,303.0 L1015.2,304.4 L1018.2,305.8 L1021.2,307.3 L1024.2,308.7 L1027.2,310.2 L1030.2,311.7 L1033.2,313.1 L1036.2,314.6 L1039.2,316.1 L1042.2,317.6 L1045.2,319.0 L1048.2,320.5 L1051.2,322.0 L1054.2,323.5 L1057.2,325.0 L1060.2,326.5 L1063.3,328.1 L1066.3,329.6 L1069.3,331.1 L1072.3,332.6 L1075.3,334.2 L1078.3,335.7 L1081.3,337.3 L1084.3,338.9 L1087.3,340.4 L1090.3,342.0 L1093.3,343.6 L1096.3,345.2 L1099.3,346.8 L1102.3,348.4 L1105.3,350.0 L1108.3,351.6 L1111.3,353.2 L1114.3,354.8 L1117.3,356.5 L1120.3,358.1 L1123.3,359.8 L1126.3,361.4 L1129.3,363.1 L1132.3,364.8 L1135.3,366.5 L1138.3,368.2 L1141.3,369.9 L1144.3,371.6 L1147.3,373.3 L1150.3,375.0 L1153.3,376.8 L1156.3,378.5 L1159.3,380.3 L1162.3,382.0 L1165.3,383.8 L1168.3,385.6 L1171.3,387.4 L1174.3,389.2 L1177.3,391.0 L1180.3,392.8 L1183.3,394.6 L1186.3,396.5 L1189.3,398.3 L1192.3,400.2 L1195.3,402.0 L1198.3,403.9 L1201.3,405.8 L1204.3,407.7 L1207.3,409.6 L1210.3,411.5 L1213.4,413.5 L1216.4,415.4 L1219.4,417.4 L1222.4,419.3 L1225.4,421.3 L1228.4,423.3 L1231.4,425.3 L1234.4,427.3 L1237.4,429.3 L1240.4,431.3 L1243.4,433.4 L1246.4,435.4 L1249.4,437.5 L1252.4,439.6 L1255.4,441.7 L1258.4,443.8 L1261.4,445.9 L1264.4,448.0 L1267.4,450.2 L1270.4,452.3 L1273.4,454.5 L1276.4,456.7 L1279.4,459.0 L1282.4,461.2 L1285.4,463.5 L1288.4,465.8 L1291.4,468.1 L1294.4,470.5 L1297.4,472.9 L1300.4,475.3 L1303.4,477.8 L1306.4,480.2 L1309.4,482.8 L1312.4,485.3 L1315.4,487.9 L1318.4,490.5 L1321.4,493.2 L1324.4,495.9 L1327.4,498.7 L1330.4,501.5 L1333.4,504.3 L1336.4,507.2 L1339.4,510.2 L1342.4,513.2 L1345.4,516.2 L1348.4,519.4 L1351.4,522.5 L1354.4,525.8 L1357.4,529.1 L1360.4,532.5 L1363.4,535.9 L1366.5,539.5 L1369.5,543.1 L1372.5,546.7 L1375.5,550.5 L1378.5,554.3 L1381.5,558.2 L1384.5,562.1 L1387.5,566.2 L1390.5,570.3 L1393.5,574.4 L1396.5,578.7 L1399.5,583.0 L1402.5,587.4 L1405.5,591.8 L1408.5,596.3 L1411.5,600.9 L1414.5,605.6 L1417.5,610.3 L1420.5,615.1 L1423.5,620.0 L1426.5,624.9 L1429.5,629.9 L1432.5,634.9 L1435.5,640.1 L1438.5,645.3 L1441.5,650.5 L1441.5,652.5 L1446.5,653.6 L1460.6,654.6 L1480.0,655.3 L1490.8,654.7 L1501.0,653.3 L1509.1,654.0 L1517.7,652.3 L1528.5,650.4 L1539.3,647.5 L1546.8,644.5 L1553.3,640.2 L1558.7,635.6 L1563.0,633.4 L1567.3,634.3 L1571.6,639.1 L1574.9,647.7 L1577.6,658.5 L1580.8,668.2 L1584.0,673.6 L1587.8,675.6 L1598.6,675.8 L1640.0,675.3 L1700.0,674.9 L1860.0,674.1 L1938.5,674.0 L1938.5,703.3 L1870.0,701.4 L1804.3,699.4 L1745.0,697.2 L1700.0,695.2 L1670.0,693.6 L1651.4,692.3 L1640.0,691.4 L1631.0,689.8 L1620.2,688.4 L1609.4,687.0 L1598.6,685.4 L1590.0,682.5 L1585.5,678.5 L1583.7,676.0" fill="none" stroke="#4682b4" stroke-width="10.7" stroke-linejoin="miter" stroke-miterlimit="4" stroke-linecap="butt"/>
</g>
<rect x="375.8" y="21.0" width="1602.7" height="984.5" fill="none" stroke="#000" stroke-width="5.8"/>
<line x1="350.3" x2="375.8" y1="185.1" y2="185.1" stroke="#000" stroke-width="5.8"/>
<text x="326.0" y="212.8" font-size="72.5" text-anchor="end">1500</text>
<line x1="350.3" x2="375.8" y1="349.2" y2="349.2" stroke="#000" stroke-width="5.8"/>
<text x="326.0" y="376.9" font-size="72.5" text-anchor="end">1000</text>
<line x1="350.3" x2="375.8" y1="513.2" y2="513.2" stroke="#000" stroke-width="5.8"/>
<text x="326.0" y="541.0" font-size="72.5" text-anchor="end">500</text>
<line x1="350.3" x2="375.8" y1="677.3" y2="677.3" stroke="#000" stroke-width="5.8"/>
<text x="326.0" y="705.0" font-size="72.5" text-anchor="end">0</text>
<line x1="350.3" x2="375.8" y1="841.4" y2="841.4" stroke="#000" stroke-width="5.8"/>
<text x="326.0" y="869.1" font-size="72.5" text-anchor="end">−500</text>
<line x1="375.8" x2="375.8" y1="1005.5" y2="1030.3" stroke="#000" stroke-width="5.8"/>
<line x1="776.5" x2="776.5" y1="1005.5" y2="1030.3" stroke="#000" stroke-width="5.8"/>
<line x1="1177.2" x2="1177.2" y1="1005.5" y2="1030.3" stroke="#000" stroke-width="5.8"/>
<line x1="1577.8" x2="1577.8" y1="1005.5" y2="1030.3" stroke="#000" stroke-width="5.8"/>
<line x1="1978.5" x2="1978.5" y1="1005.5" y2="1030.3" stroke="#000" stroke-width="5.8"/>
<text transform="translate(84.9,512.9) rotate(-90)" font-size="72.0" text-anchor="middle">Elevation (m)</text>
<g clip-path="url(#c1)">
<clipPath id="c1"><rect x="375.8" y="1151.1" width="1602.7" height="984.5"/></clipPath>
<line x1="375.8" x2="1978.5" y1="1807.4" y2="1807.4" stroke="#8c8c8c" stroke-width="1.3"/>
<rect x="1933.1" y="1857.6" width="10.5" height="7.4" fill="#dc143c"/>
<rect x="1933.1" y="1838.3" width="10.7" height="2.2" fill="#dc143c"/>
<path d="M375.8,1402.4 L378.8,1402.8 L381.8,1403.2 L384.8,1403.7 L387.8,1404.1 L390.9,1404.6 L393.9,1405.1 L396.9,1405.6 L399.9,1406.1 L402.9,1406.6 L405.9,1407.1 L408.9,1407.6 L411.9,1408.1 L415.0,1408.7 L418.0,1409.2 L421.0,1409.8 L424.0,1410.4 L427.0,1411.0 L430.0,1411.6 L433.0,1412.2 L436.0,1412.8 L439.1,1413.4 L442.1,1414.0 L445.1,1414.7 L448.1,1415.4 L451.1,1416.0 L454.1,1416.7 L457.1,1417.4 L460.1,1418.1 L463.2,1418.8 L466.2,1419.5 L469.2,1420.3 L472.2,1421.0 L475.2,1421.8 L478.2,1422.5 L481.2,1423.3 L484.2,1424.1 L487.3,1424.9 L490.3,1425.7 L493.3,1426.5 L496.3,1427.4 L499.3,1428.2 L502.3,1429.1 L505.3,1429.9 L508.3,1430.8 L511.4,1431.7 L514.4,1432.6 L517.4,1433.5 L520.4,1434.4 L523.4,1435.4 L526.4,1436.3 L529.4,1437.3 L532.4,1438.2 L535.4,1439.2 L538.5,1440.2 L541.5,1441.2 L544.5,1442.2 L547.5,1443.2 L550.5,1444.3 L553.5,1445.3 L556.5,1446.4 L559.5,1447.5 L562.6,1448.6 L565.6,1449.6 L568.6,1450.8 L571.6,1451.9 L574.6,1453.0 L577.6,1454.2 L580.6,1455.3 L583.6,1456.5 L586.7,1457.7 L589.7,1458.9 L592.7,1460.1 L595.7,1461.3 L598.7,1462.5 L601.7,1463.8 L604.7,1465.0 L607.7,1466.3 L610.8,1467.6 L613.8,1468.8 L616.8,1470.1 L619.8,1471.5 L622.8,1472.8 L625.8,1474.1 L628.8,1475.5 L631.8,1476.9 L634.9,1478.2 L637.9,1479.6 L640.9,1481.0 L643.9,1482.4 L646.9,1483.9 L649.9,1485.3 L652.9,1486.8 L655.9,1488.2 L659.0,1489.7 L662.0,1491.2 L665.0,1492.7 L668.0,1494.2 L671.0,1495.8 L674.0,1497.3 L677.0,1498.9 L680.0,1500.5 L683.0,1502.0 L686.1,1503.6 L689.1,1505.2 L692.1,1506.9 L695.1,1508.5 L698.1,1510.2 L701.1,1511.8 L704.1,1513.5 L707.1,1515.2 L710.2,1516.9 L713.2,1518.6 L716.2,1520.4 L719.2,1522.1 L722.2,1523.9 L725.2,1525.6 L728.2,1527.4 L731.2,1529.2 L734.3,1531.0 L737.3,1532.9 L740.3,1534.7 L743.3,1536.6 L746.3,1538.4 L749.3,1540.3 L752.3,1542.2 L755.3,1544.1 L758.4,1546.1 L761.4,1548.0 L764.4,1550.0 L767.4,1551.9 L770.4,1553.9 L773.4,1556.0 L776.4,1558.0 L779.4,1560.1 L782.5,1562.1 L785.5,1564.2 L788.5,1566.3 L791.5,1568.5 L794.5,1570.7 L797.5,1572.8 L800.5,1575.1 L803.5,1577.3 L806.6,1579.5 L809.6,1581.8 L812.6,1584.1 L815.6,1586.5 L818.6,1588.8 L821.6,1591.2 L824.6,1593.6 L827.6,1596.1 L830.7,1598.6 L833.7,1601.1 L836.7,1603.6 L839.7,1606.2 L842.7,1608.8 L845.7,1611.4 L848.7,1614.1 L851.7,1616.8 L854.7,1619.5 L857.8,1622.3 L860.8,1625.1 L863.8,1627.9 L866.8,1630.8 L869.8,1633.7 L872.8,1636.6 L875.8,1639.6 L878.8,1642.6 L881.9,1645.7 L884.9,1648.7 L887.9,1651.9 L890.9,1655.0 L893.9,1658.3 L896.9,1661.5 L899.9,1664.8 L902.9,1668.2 L906.0,1671.5 L909.0,1675.0 L912.0,1678.4 L915.0,1681.9 L918.0,1685.5 L921.0,1689.1 L924.0,1692.7 L927.0,1696.4 L930.1,1700.2 L933.1,1704.0 L936.1,1707.8 L939.1,1711.7 L942.1,1715.6 L945.1,1719.6 L948.1,1723.7 L951.1,1727.8 L954.2,1731.9 L957.2,1736.1 L960.2,1740.3 L963.2,1744.6 L966.2,1749.0 L969.2,1753.4 L972.2,1757.8 L975.2,1762.4 L978.3,1766.9 L981.3,1771.6 L984.3,1776.2 L987.3,1781.0 L990.3,1785.8 L1007.9,1786.7 L1036.4,1787.8 L1122.0,1789.0 L1322.0,1791.9 L1407.0,1793.7 L1500.0,1795.2 L1610.0,1797.0 L1900.0,1800.4 L1938.5,1800.8" fill="none" stroke="#dc143c" stroke-width="10.7" stroke-linejoin="miter" stroke-dasharray="10.75 17.82" stroke-dashoffset="10.98"/>
<path d="M1929.5,1866.2 L1918.0,1866.5 L1889.5,1867.5 L1861.2,1869.0 L1832.6,1870.3 L1804.0,1871.8 L1775.3,1873.6 L1746.9,1875.6 L1718.5,1877.9 L1690.2,1880.6 L1661.8,1883.8 L1633.5,1887.5 L1606.6,1891.3 L1577.1,1896.3 L1549.0,1900.5 L1520.7,1905.1 L1492.5,1909.3 L1464.2,1913.7 L1436.1,1918.2 L1407.8,1922.8 L1380.0,1926.8 L1351.8,1931.0 L1323.5,1935.5 L1295.2,1939.9 L1266.9,1944.0 L1238.6,1948.0 L1207.6,1952.5 L1180.2,1956.2 L1151.7,1959.6 L1123.1,1962.5 L1094.8,1965.1 L1066.6,1967.7 L1038.0,1970.5 L1022.0,1972.9 L1010.2,1977.3 L1000.0,1984.1 L991.7,1993.3 L984.0,2004.1" fill="none" stroke="#dc143c" stroke-width="10.7" stroke-linejoin="miter" stroke-dasharray="10.75 17.82" stroke-dashoffset="22.20"/>
<path d="M375.8,1242.8 L378.8,1243.0 L381.8,1243.3 L384.8,1243.6 L387.8,1243.8 L390.8,1244.1 L393.8,1244.4 L396.8,1244.7 L399.8,1245.0 L402.8,1245.3 L405.8,1245.6 L408.8,1245.9 L411.8,1246.2 L414.8,1246.6 L417.8,1246.9 L420.9,1247.2 L423.9,1247.6 L426.9,1248.0 L429.9,1248.3 L432.9,1248.7 L435.9,1249.1 L438.9,1249.5 L441.9,1249.9 L444.9,1250.3 L447.9,1250.7 L450.9,1251.1 L453.9,1251.5 L456.9,1252.0 L459.9,1252.4 L462.9,1252.8 L465.9,1253.3 L468.9,1253.8 L471.9,1254.2 L474.9,1254.7 L477.9,1255.2 L480.9,1255.7 L483.9,1256.2 L486.9,1256.7 L489.9,1257.2 L492.9,1257.7 L495.9,1258.2 L498.9,1258.7 L501.9,1259.3 L504.9,1259.8 L507.9,1260.4 L511.0,1260.9 L514.0,1261.5 L517.0,1262.1 L520.0,1262.7 L523.0,1263.2 L526.0,1263.8 L529.0,1264.4 L532.0,1265.1 L535.0,1265.7 L538.0,1266.3 L541.0,1266.9 L544.0,1267.6 L547.0,1268.2 L550.0,1268.8 L553.0,1269.5 L556.0,1270.2 L559.0,1270.8 L562.0,1271.5 L565.0,1272.2 L568.0,1272.9 L571.0,1273.6 L574.0,1274.3 L577.0,1275.0 L580.0,1275.7 L583.0,1276.4 L586.0,1277.2 L589.0,1277.9 L592.0,1278.7 L595.0,1279.4 L598.0,1280.2 L601.1,1280.9 L604.1,1281.7 L607.1,1282.5 L610.1,1283.3 L613.1,1284.1 L616.1,1284.9 L619.1,1285.7 L622.1,1286.5 L625.1,1287.3 L628.1,1288.1 L631.1,1289.0 L634.1,1289.8 L637.1,1290.6 L640.1,1291.5 L643.1,1292.3 L646.1,1293.2 L649.1,1294.1 L652.1,1295.0 L655.1,1295.9 L658.1,1296.7 L661.1,1297.6 L664.1,1298.6 L667.1,1299.5 L670.1,1300.4 L673.1,1301.3 L676.1,1302.2 L679.1,1303.2 L682.1,1304.1 L685.1,1305.1 L688.1,1306.0 L691.2,1307.0 L694.2,1308.0 L697.2,1309.0 L700.2,1309.9 L703.2,1310.9 L706.2,1311.9 L709.2,1312.9 L712.2,1313.9 L715.2,1315.0 L718.2,1316.0 L721.2,1317.0 L724.2,1318.1 L727.2,1319.1 L730.2,1320.2 L733.2,1321.2 L736.2,1322.3 L739.2,1323.3 L742.2,1324.4 L745.2,1325.5 L748.2,1326.6 L751.2,1327.7 L754.2,1328.8 L757.2,1329.9 L760.2,1331.0 L763.2,1332.1 L766.2,1333.3 L769.2,1334.4 L772.2,1335.5 L775.2,1336.7 L778.2,1337.8 L781.3,1339.0 L784.3,1340.1 L787.3,1341.3 L790.3,1342.5 L793.3,1343.7 L796.3,1344.8 L799.3,1346.0 L802.3,1347.2 L805.3,1348.4 L808.3,1349.6 L811.3,1350.8 L814.3,1352.0 L817.3,1353.3 L820.3,1354.5 L823.3,1355.7 L826.3,1356.9 L829.3,1358.2 L832.3,1359.4 L835.3,1360.7 L838.3,1361.9 L841.3,1363.2 L844.3,1364.4 L847.3,1365.7 L850.3,1366.9 L853.3,1368.2 L856.3,1369.5 L859.3,1370.7 L862.3,1372.0 L865.3,1373.3 L868.3,1374.6 L871.4,1375.9 L874.4,1377.1 L877.4,1378.4 L880.4,1379.7 L883.4,1381.0 L886.4,1382.3 L889.4,1383.6 L892.4,1384.9 L895.4,1386.2 L898.4,1387.5 L901.4,1388.9 L904.4,1390.2 L907.4,1391.5 L910.4,1392.8 L913.4,1394.1 L916.4,1395.4 L919.4,1396.8 L922.4,1398.1 L925.4,1399.4 L928.4,1400.7 L931.4,1402.1 L934.4,1403.4 L937.4,1404.7 L940.4,1406.1 L943.4,1407.4 L946.4,1408.7 L949.4,1410.1 L952.4,1411.4 L955.4,1412.7 L958.4,1414.1 L961.5,1415.4 L964.5,1416.8 L967.5,1418.1 L970.5,1419.4 L973.5,1420.8 L976.5,1422.1 L979.5,1423.4 L982.5,1424.8 L985.5,1426.1 L988.5,1427.5 L991.5,1428.8 L994.5,1430.1 L997.5,1431.5 L1000.5,1432.8 L1003.5,1434.1 L1006.5,1435.5 L1009.5,1436.8 L1012.5,1438.1 L1015.5,1439.5 L1018.5,1440.8 L1021.5,1442.1 L1024.5,1443.5 L1027.5,1444.8 L1030.5,1446.2 L1033.5,1447.5 L1036.5,1448.8 L1039.5,1450.2 L1042.5,1451.5 L1045.5,1452.9 L1048.5,1454.2 L1051.6,1455.6 L1054.6,1456.9 L1057.6,1458.3 L1060.6,1459.6 L1063.6,1461.0 L1066.6,1462.3 L1069.6,1463.7 L1072.6,1465.1 L1075.6,1466.4 L1078.6,1467.8 L1081.6,1469.2 L1084.6,1470.6 L1087.6,1472.0 L1090.6,1473.4 L1093.6,1474.8 L1096.6,1476.2 L1099.6,1477.6 L1102.6,1479.0 L1105.6,1480.4 L1108.6,1481.9 L1111.6,1483.3 L1114.6,1484.7 L1117.6,1486.2 L1120.6,1487.6 L1123.6,1489.1 L1126.6,1490.6 L1129.6,1492.0 L1132.6,1493.5 L1135.6,1495.0 L1138.6,1496.5 L1141.7,1498.0 L1144.7,1499.5 L1147.7,1501.1 L1150.7,1502.6 L1153.7,1504.2 L1156.7,1505.7 L1159.7,1507.3 L1162.7,1508.9 L1165.7,1510.5 L1168.7,1512.1 L1171.7,1513.7 L1174.7,1515.4 L1177.7,1517.0 L1180.7,1518.7 L1183.7,1520.4 L1186.7,1522.1 L1189.7,1523.8 L1192.7,1525.5 L1195.7,1527.3 L1198.7,1529.1 L1201.7,1530.9 L1204.7,1532.7 L1207.7,1534.5 L1210.7,1536.4 L1213.7,1538.2 L1216.7,1540.1 L1219.7,1542.1 L1222.7,1544.0 L1225.7,1546.0 L1228.7,1547.9 L1231.8,1550.0 L1234.8,1552.0 L1237.8,1554.0 L1240.8,1556.1 L1243.8,1558.2 L1246.8,1560.4 L1249.8,1562.5 L1252.8,1564.7 L1255.8,1566.9 L1258.8,1569.2 L1261.8,1571.4 L1264.8,1573.7 L1267.8,1576.0 L1270.8,1578.3 L1273.8,1580.6 L1276.8,1583.0 L1279.8,1585.3 L1282.8,1587.7 L1285.8,1590.0 L1288.8,1592.4 L1291.8,1594.8 L1294.8,1597.1 L1297.8,1599.5 L1300.8,1601.8 L1303.8,1604.2 L1306.8,1606.5 L1309.8,1608.9 L1312.8,1611.2 L1315.8,1613.6 L1318.8,1616.0 L1321.9,1618.4 L1324.9,1620.8 L1327.9,1623.3 L1330.9,1625.8 L1333.9,1628.4 L1336.9,1631.0 L1339.9,1633.7 L1342.9,1636.5 L1345.9,1639.3 L1348.9,1642.2 L1351.9,1645.2 L1354.9,1648.2 L1357.9,1651.3 L1360.9,1654.5 L1363.9,1657.7 L1366.9,1661.0 L1369.9,1664.4 L1372.9,1667.8 L1375.9,1671.4 L1378.9,1674.9 L1381.9,1678.6 L1384.9,1682.3 L1387.9,1686.1 L1390.9,1689.9 L1393.9,1693.7 L1396.9,1697.6 L1399.9,1701.5 L1402.9,1705.4 L1405.9,1709.3 L1408.9,1713.2 L1412.0,1717.2 L1415.0,1721.3 L1418.0,1725.4 L1421.0,1729.6 L1424.0,1733.9 L1427.0,1738.3 L1430.0,1742.8 L1433.0,1747.4 L1436.0,1752.1 L1439.0,1756.9 L1442.0,1761.7 L1445.0,1766.6 L1448.0,1771.6 L1451.0,1776.6 L1454.0,1781.6 L1457.0,1783.9 L1470.0,1784.5 L1485.0,1784.9 L1493.5,1784.7 L1497.5,1783.1 L1501.3,1781.7 L1505.0,1783.1 L1508.5,1784.3 L1528.5,1780.5 L1539.3,1777.6 L1546.8,1774.6 L1553.3,1770.3 L1558.7,1765.7 L1563.0,1763.5 L1567.3,1764.4 L1571.6,1769.2 L1574.9,1777.8 L1577.6,1788.6 L1580.8,1798.3 L1584.0,1803.7 L1587.8,1805.7 L1598.6,1805.9 L1640.0,1805.4 L1700.0,1805.0 L1860.0,1804.2 L1938.5,1804.0 L1938.5,1834.6 L1870.0,1832.7 L1804.3,1830.7 L1745.0,1828.5 L1700.0,1826.5 L1670.0,1824.9 L1651.4,1823.6 L1640.0,1822.7 L1631.0,1821.1 L1620.2,1819.7 L1609.4,1817.1 L1598.6,1815.5 L1590.0,1812.6 L1585.5,1808.6 L1583.7,1806.1" fill="none" stroke="#808080" stroke-width="10.7" stroke-linejoin="miter" stroke-miterlimit="4" stroke-linecap="butt"/>
<path d="M1454.0,2008.6 L1455.5,2007.5 L1457.0,2006.4 L1458.5,2005.5 L1460.0,2004.4 L1461.5,2003.1 L1463.0,2001.8 L1464.5,2000.4 L1466.0,1999.1 L1467.5,1997.8 L1469.0,1996.6 L1470.5,1995.6 L1472.0,1994.7 L1473.5,1993.8 L1475.0,1993.0 L1476.5,1992.5 L1478.0,1992.4 L1479.5,1992.6 L1481.0,1993.0 L1482.5,1993.6 L1484.0,1994.3 L1485.5,1995.3 L1487.0,1996.6 L1488.5,1998.1 L1490.0,1999.5 L1491.5,2001.3 L1493.0,2003.8 L1494.5,2007.1" fill="none" stroke="#808080" stroke-width="10.7" stroke-linejoin="miter" stroke-miterlimit="4" stroke-linecap="butt"/>
<path d="M1114.0,2040.6 L1116.0,2039.3 L1118.0,2037.7 L1120.0,2035.9 L1122.0,2034.5 L1124.0,2033.3 L1126.0,2032.3 L1128.0,2031.4 L1130.0,2030.6 L1132.0,2029.7 L1134.0,2028.9 L1136.0,2028.2 L1138.0,2027.5 L1140.0,2026.8 L1142.0,2026.2 L1144.0,2025.6 L1146.0,2025.1 L1148.0,2024.7 L1150.0,2024.2 L1152.0,2023.8 L1154.0,2023.4 L1156.0,2023.0 L1158.0,2022.7 L1160.0,2022.3 L1162.0,2022.0 L1164.0,2021.7 L1166.0,2021.4 L1168.0,2021.1 L1170.0,2020.8 L1172.0,2020.5 L1174.0,2020.2 L1176.0,2020.0 L1178.0,2019.7 L1180.0,2019.5 L1182.0,2019.3 L1184.0,2019.0 L1186.0,2018.8 L1188.0,2018.6 L1190.0,2018.4 L1192.0,2018.2 L1194.0,2017.9 L1196.0,2017.7 L1198.0,2017.4 L1200.0,2017.2 L1202.0,2017.0 L1204.0,2016.7 L1206.0,2016.5 L1208.0,2016.2 L1210.0,2016.0 L1212.0,2015.8 L1214.0,2015.5 L1216.0,2015.3 L1218.0,2015.0 L1220.0,2014.8 L1222.0,2014.5 L1224.0,2014.3 L1226.0,2014.0 L1228.0,2013.8 L1230.0,2013.5 L1232.0,2013.3 L1234.0,2013.0 L1236.0,2012.8 L1238.0,2012.5 L1240.0,2012.3 L1242.0,2012.0 L1244.0,2011.8 L1246.0,2011.5 L1248.0,2011.2 L1250.0,2011.0 L1252.0,2010.7 L1254.0,2010.5 L1256.0,2010.2 L1258.0,2010.0 L1260.0,2009.7 L1262.0,2009.5 L1264.0,2009.2 L1266.0,2009.0 L1268.0,2008.7 L1270.0,2008.5 L1272.0,2008.3 L1274.0,2008.0 L1276.0,2007.8 L1278.0,2007.5 L1280.0,2007.3 L1282.0,2007.0 L1284.0,2006.8 L1286.0,2006.6 L1288.0,2006.3 L1290.0,2006.1 L1292.0,2005.8 L1294.0,2005.6 L1296.0,2005.4 L1298.0,2005.1 L1300.0,2004.9 L1302.0,2004.7 L1304.0,2004.4 L1306.0,2004.2 L1308.0,2003.9 L1310.0,2003.7 L1312.0,2003.5 L1314.0,2003.2 L1316.0,2003.0 L1318.0,2002.7 L1320.0,2002.5 L1322.0,2002.3 L1324.0,2002.0 L1326.0,2001.8 L1328.0,2001.5 L1330.0,2001.3 L1332.0,2001.0 L1334.0,2000.8 L1336.0,2000.5 L1338.0,2000.3 L1340.0,2000.0 L1342.0,1999.7 L1344.0,1999.5 L1346.0,1999.2 L1348.0,1999.0 L1350.0,1998.7 L1352.0,1998.5 L1354.0,1998.2 L1356.0,1998.0 L1358.0,1997.7 L1360.0,1997.4 L1362.0,1997.2 L1364.0,1996.9 L1366.0,1996.7 L1368.0,1996.4 L1370.0,1996.1 L1372.0,1995.8 L1374.0,1995.6 L1376.0,1995.3 L1378.0,1995.0 L1380.0,1994.7 L1382.0,1994.4 L1384.0,1994.1 L1386.0,1993.8 L1388.0,1993.5 L1390.0,1993.2 L1392.0,1992.9 L1394.0,1992.6 L1396.0,1992.3 L1398.0,1991.9 L1400.0,1991.5 L1402.0,1991.2 L1404.0,1990.8 L1406.0,1990.4 L1408.0,1990.0 L1410.0,1989.6 L1412.0,1989.2 L1414.0,1988.8 L1416.0,1988.4 L1418.0,1988.0 L1420.0,1987.6 L1422.0,1987.2 L1424.0,1986.8 L1426.0,1986.4 L1428.0,1985.9 L1430.0,1985.5 L1432.0,1985.1 L1434.0,1984.8 L1436.0,1984.4 L1438.0,1984.0 L1440.0,1983.6 L1442.0,1983.1 L1444.0,1982.7 L1446.0,1982.4 L1448.0,1982.0 L1450.0,1981.7 L1452.0,1981.4 L1454.0,1981.0 L1456.0,1980.7 L1458.0,1980.5 L1460.0,1980.3 L1462.0,1980.3 L1464.0,1980.3 L1466.0,1980.4 L1468.0,1980.4 L1470.0,1980.5 L1472.0,1980.8 L1474.0,1981.2 L1476.0,1981.7 L1478.0,1982.5 L1480.0,1983.4 L1482.0,1984.7 L1484.0,1986.3 L1486.0,1987.9 L1488.0,1989.5 L1490.0,1991.4 L1492.0,1993.9 L1494.0,1996.7 L1496.0,1999.5 L1498.0,2002.9 L1500.0,2007.6" fill="none" stroke="#4682b4" stroke-width="10.7" stroke-linejoin="miter" stroke-miterlimit="4" stroke-linecap="butt"/>
<path d="M375.8,1938.7 L377.8,1938.7 L379.8,1938.7 L381.8,1938.7 L383.8,1938.7 L385.8,1938.7 L387.8,1938.7 L389.8,1938.7 L391.8,1938.7 L393.8,1938.7 L395.8,1938.7 L397.8,1938.7 L399.8,1938.7 L401.8,1938.7 L403.8,1938.7 L405.9,1938.7 L407.9,1938.7 L409.9,1938.7 L411.9,1938.7 L413.9,1938.7 L415.9,1938.7 L417.9,1938.7 L419.9,1938.7 L421.9,1938.7 L423.9,1938.7 L425.9,1938.7 L427.9,1938.7 L429.9,1938.7 L431.9,1938.7 L433.9,1938.7 L435.9,1938.7 L437.9,1938.7 L439.9,1938.7 L441.9,1938.7 L443.9,1938.7 L445.9,1938.7 L447.9,1938.7 L449.9,1938.7 L451.9,1938.7 L453.9,1938.7 L455.9,1938.7 L457.9,1938.7 L459.9,1938.7 L461.9,1938.7 L463.9,1938.7 L466.0,1938.7 L468.0,1938.7 L470.0,1938.7 L472.0,1938.7 L474.0,1938.7 L476.0,1938.7 L478.0,1938.7 L480.0,1938.7 L482.0,1938.7 L484.0,1938.7 L486.0,1938.7 L488.0,1938.7 L490.0,1938.7 L492.0,1938.7 L494.0,1938.7 L496.0,1938.7 L498.0,1938.7 L500.0,1938.7 L502.0,1938.7 L504.0,1938.7 L506.0,1938.7 L508.0,1938.7 L510.0,1938.7 L512.0,1938.7 L514.0,1938.7 L516.0,1938.7 L518.0,1938.7 L520.0,1938.7 L522.0,1938.7 L524.0,1938.7 L526.1,1938.7 L528.1,1938.7 L530.1,1938.7 L532.1,1938.7 L534.1,1938.7 L536.1,1938.7 L538.1,1938.7 L540.1,1938.7 L542.1,1938.7 L544.1,1938.7 L546.1,1938.7 L548.1,1938.7 L550.1,1938.7 L552.1,1938.7 L554.1,1938.7 L556.1,1938.7 L558.1,1938.7 L560.1,1938.7 L562.1,1938.7 L564.1,1938.7 L566.1,1938.7 L568.1,1938.7 L570.1,1938.7 L572.1,1938.7 L574.1,1938.7 L576.1,1938.7 L578.1,1938.7 L580.1,1938.7 L582.1,1938.7 L584.2,1938.7 L586.2,1938.7 L588.2,1938.7 L590.2,1938.7 L592.2,1938.7 L594.2,1938.7 L596.2,1938.7 L598.2,1938.7 L600.2,1938.7 L602.2,1938.7 L604.2,1938.7 L606.2,1938.7 L608.2,1938.7 L610.2,1938.7 L612.2,1938.7 L614.2,1938.7 L616.2,1938.7 L618.2,1938.7 L620.2,1938.7 L622.2,1938.7 L624.2,1938.7 L626.2,1938.7 L628.2,1938.7 L630.2,1938.7 L632.2,1938.7 L634.2,1938.7 L636.2,1938.7 L638.2,1938.7 L640.2,1938.7 L642.2,1938.7 L644.3,1938.7 L646.3,1938.7 L648.3,1938.7 L650.3,1938.7 L652.3,1938.7 L654.3,1938.7 L656.3,1938.7 L658.3,1938.7 L660.3,1938.7 L662.3,1938.7 L664.3,1938.7 L666.3,1938.7 L668.3,1938.7 L670.3,1938.7 L672.3,1938.7 L674.3,1938.7 L676.3,1938.7 L678.3,1938.7 L680.3,1938.7 L682.3,1938.7 L684.3,1938.7 L686.3,1938.7 L688.3,1938.7 L690.3,1938.7 L692.3,1938.7 L694.3,1938.7 L696.3,1938.7 L698.3,1938.7 L700.3,1938.7 L702.4,1938.7 L704.4,1938.7 L706.4,1938.7 L708.4,1938.7 L710.4,1938.7 L712.4,1938.7 L714.4,1938.7 L716.4,1938.7 L718.4,1938.7 L720.4,1938.7 L722.4,1938.7 L724.4,1938.7 L726.4,1938.7 L728.4,1938.7 L730.4,1938.7 L732.4,1938.7 L734.4,1938.7 L736.4,1938.7 L738.4,1938.7 L740.4,1938.7 L742.4,1938.7 L744.4,1938.7 L746.4,1938.7 L748.4,1938.7 L750.4,1938.7 L752.4,1938.7 L754.4,1938.7 L756.4,1938.7 L758.4,1938.7 L760.4,1938.7 L762.5,1938.7 L764.5,1938.7 L766.5,1938.7 L768.5,1938.7 L770.5,1938.7 L772.5,1938.7 L774.5,1938.7 L776.5,1938.7 L778.5,1938.7 L780.5,1938.7 L782.5,1938.8 L784.5,1938.8 L786.5,1938.9 L788.5,1939.0 L790.5,1939.0 L792.5,1939.2 L794.5,1939.3 L796.5,1939.4 L798.5,1939.6 L800.5,1939.7 L802.5,1939.9 L804.5,1940.1 L806.5,1940.3 L808.5,1940.5 L810.5,1940.7 L812.5,1941.0 L814.5,1941.2 L816.5,1941.5 L818.5,1941.8 L820.5,1942.1 L822.6,1942.4 L824.6,1942.7 L826.6,1943.1 L828.6,1943.4 L830.6,1943.8 L832.6,1944.2 L834.6,1944.6 L836.6,1945.0 L838.6,1945.4 L840.6,1945.8 L842.6,1946.2 L844.6,1946.7 L846.6,1947.2 L848.6,1947.6 L850.6,1948.1 L852.6,1948.6 L854.6,1949.1 L856.6,1949.7 L858.6,1950.2 L860.6,1950.8 L862.6,1951.3 L864.6,1951.9 L866.6,1952.5 L868.6,1953.1 L870.6,1953.7 L872.6,1954.3 L874.6,1954.9 L876.6,1955.5 L878.6,1956.2 L880.7,1956.8 L882.7,1957.5 L884.7,1958.2 L886.7,1958.8 L888.7,1959.5 L890.7,1960.2 L892.7,1960.9 L894.7,1961.6 L896.7,1962.4 L898.7,1963.1 L900.7,1963.8 L902.7,1964.6 L904.7,1965.4 L906.7,1966.1 L908.7,1966.9 L910.7,1967.7 L912.7,1968.5 L914.7,1969.3 L916.7,1970.1 L918.7,1970.9 L920.7,1971.7 L922.7,1972.5 L924.7,1973.3 L926.7,1974.2 L928.7,1975.0 L930.7,1975.8 L932.7,1976.7 L934.7,1977.5 L936.7,1978.4 L938.7,1979.2 L940.8,1980.1 L942.8,1981.0 L944.8,1981.8 L946.8,1982.7 L948.8,1983.6 L950.8,1984.5 L952.8,1985.4 L954.8,1986.3 L956.8,1987.1 L958.8,1988.0 L960.8,1988.9 L962.8,1989.8 L964.8,1990.7 L966.8,1991.6 L968.8,1992.5 L970.8,1993.4 L972.8,1994.3 L974.8,1995.2 L976.8,1996.1 L978.8,1997.0 L980.8,1997.9 L982.8,1998.8 L984.8,1999.7 L986.8,2000.6 L988.8,2001.5 L990.8,2002.4 L992.8,2003.3 L994.8,2004.2 L996.8,2005.1 L998.8,2006.0 L1000.9,2006.9 L1002.9,2007.8 L1004.9,2008.7 L1006.9,2009.5 L1008.9,2010.4 L1010.9,2011.3 L1012.9,2012.2 L1014.9,2013.0 L1016.9,2013.9 L1018.9,2014.7 L1020.9,2015.6 L1022.9,2016.4 L1024.9,2017.3 L1026.9,2018.1 L1028.9,2018.9 L1030.9,2019.8 L1032.9,2020.6 L1034.9,2021.4 L1036.9,2022.2 L1038.9,2023.0 L1040.9,2023.8 L1042.9,2024.6 L1044.9,2025.4 L1046.9,2026.1 L1048.9,2026.9 L1050.9,2027.7 L1052.9,2028.4 L1054.9,2029.2 L1056.9,2029.9 L1059.0,2030.6 L1061.0,2031.3 L1063.0,2032.0 L1065.0,2032.7 L1067.0,2033.4 L1069.0,2034.1 L1071.0,2034.8 L1073.0,2035.4 L1075.0,2036.1 L1077.0,2036.7 L1079.0,2037.4 L1081.0,2038.0 L1083.0,2038.6 L1085.0,2039.2 L1087.0,2039.8 L1089.0,2040.4 L1091.0,2040.9 L1093.0,2041.5 L1095.0,2042.1 L1097.0,2042.6 L1099.0,2043.1 L1101.0,2043.6 L1103.0,2044.1 L1105.0,2044.6 L1107.0,2045.1 L1109.0,2045.6 L1111.0,2046.0 L1113.0,2046.5 L1115.0,2046.9 L1117.0,2047.3 L1119.1,2047.7 L1121.1,2048.1 L1123.1,2048.5 L1125.1,2048.8 L1127.1,2049.2 L1129.1,2049.5 L1131.1,2049.9 L1133.1,2050.2 L1135.1,2050.5 L1137.1,2050.7 L1139.1,2051.0 L1141.1,2051.3 L1143.1,2051.5 L1145.1,2051.8 L1147.1,2052.0 L1149.1,2052.2 L1151.1,2052.4 L1153.1,2052.5 L1155.1,2052.7 L1157.1,2052.9 L1159.1,2053.0 L1161.1,2053.1 L1163.1,2053.2 L1165.1,2053.3 L1167.1,2053.4 L1169.1,2053.4 L1171.1,2053.5 L1173.1,2053.5 L1175.1,2053.6 L1177.2,2053.6 L1179.2,2053.5 L1181.2,2053.5 L1183.2,2053.4 L1185.2,2053.4 L1187.2,2053.3 L1189.2,2053.1 L1191.2,2053.0 L1193.2,2052.8 L1195.2,2052.6 L1197.2,2052.4 L1199.2,2052.1 L1201.2,2051.8 L1203.2,2051.5 L1205.2,2051.2 L1207.2,2050.9 L1209.2,2050.5 L1211.2,2050.1 L1213.2,2049.7 L1215.2,2049.3 L1217.2,2048.9 L1219.2,2048.4 L1221.2,2047.9 L1223.2,2047.4 L1225.2,2046.9 L1227.2,2046.3 L1229.2,2045.8 L1231.2,2045.2 L1233.2,2044.6 L1235.2,2044.0 L1237.3,2043.4 L1239.3,2042.8 L1241.3,2042.1 L1243.3,2041.5 L1245.3,2040.8 L1247.3,2040.1 L1249.3,2039.4 L1251.3,2038.7 L1253.3,2038.0 L1255.3,2037.3 L1257.3,2036.6 L1259.3,2035.8 L1261.3,2035.1 L1263.3,2034.3 L1265.3,2033.6 L1267.3,2032.8 L1269.3,2032.0 L1271.3,2031.3 L1273.3,2030.5 L1275.3,2029.7 L1277.3,2028.9 L1279.3,2028.2 L1281.3,2027.4 L1283.3,2026.6 L1285.3,2025.9 L1287.3,2025.1 L1289.3,2024.3 L1291.3,2023.6 L1293.3,2022.8 L1295.3,2022.1 L1297.4,2021.3 L1299.4,2020.6 L1301.4,2019.9 L1303.4,2019.2 L1305.4,2018.5 L1307.4,2017.8 L1309.4,2017.1 L1311.4,2016.4 L1313.4,2015.8 L1315.4,2015.1 L1317.4,2014.5 L1319.4,2013.9 L1321.4,2013.3 L1323.4,2012.7 L1325.4,2012.1 L1327.4,2011.5 L1329.4,2011.0 L1331.4,2010.5 L1333.4,2010.0 L1335.4,2009.5 L1337.4,2009.0 L1339.4,2008.6 L1341.4,2008.2 L1343.4,2007.8 L1345.4,2007.4 L1347.4,2007.0 L1349.4,2006.7 L1351.4,2006.4 L1353.4,2006.1 L1355.5,2005.8 L1357.5,2005.5 L1359.5,2005.3 L1361.5,2005.1 L1363.5,2004.9 L1365.5,2004.8 L1367.5,2004.6 L1369.5,2004.5 L1371.5,2004.4 L1373.5,2004.4 L1375.5,2004.3 L1377.5,2004.3 L1379.5,2004.3 L1381.5,2004.4 L1383.5,2004.4 L1385.5,2004.4 L1387.5,2004.4 L1389.5,2004.5 L1391.5,2004.5 L1393.5,2004.5 L1395.5,2004.6 L1397.5,2004.6 L1399.5,2004.7 L1401.5,2004.7 L1403.5,2004.8 L1405.5,2004.9 L1407.5,2004.9 L1409.5,2005.0 L1411.5,2005.1 L1413.5,2005.2 L1415.6,2005.3 L1417.6,2005.4 L1419.6,2005.5 L1421.6,2005.6 L1423.6,2005.7 L1425.6,2005.9 L1427.6,2006.0 L1429.6,2006.1 L1431.6,2006.3 L1433.6,2006.4 L1435.6,2006.6 L1437.6,2006.7 L1439.6,2006.9 L1441.6,2007.0 L1443.6,2007.2 L1445.6,2007.4 L1447.6,2007.5 L1449.6,2007.7 L1451.6,2007.9 L1453.6,2008.1 L1455.6,2008.3 L1457.6,2008.5 L1459.6,2008.7 L1461.6,2008.9 L1463.6,2009.2 L1465.6,2009.4 L1467.6,2009.6 L1469.6,2009.8 L1471.6,2010.0 L1473.6,2010.2 L1475.7,2010.4 L1477.7,2010.5 L1479.7,2010.6 L1481.7,2010.7 L1483.7,2010.8 L1485.7,2010.7 L1487.7,2010.7 L1489.7,2010.5 L1491.7,2010.3 L1493.7,2010.0 L1495.7,2009.6 L1497.7,2009.0 L1499.7,2008.3 L1501.7,2007.5 L1503.7,2006.4 L1505.7,2005.1 L1507.7,2003.6 L1509.7,2001.8 L1511.7,1999.7 L1513.7,1997.2 L1515.7,1994.5 L1517.7,1991.3 L1519.7,1987.8 L1521.7,1983.8 L1523.7,1979.5 L1525.7,1974.7 L1527.7,1969.4 L1529.7,1963.7 L1531.7,1957.6 L1533.8,1951.0 L1535.8,1944.0 L1537.8,1936.7 L1539.8,1929.0 L1541.8,1921.1 L1543.8,1912.9 L1545.8,1904.5 L1547.8,1896.1 L1549.8,1887.6 L1551.8,1879.2 L1553.8,1870.9 L1555.8,1862.8 L1557.8,1855.1 L1559.8,1847.8 L1561.8,1841.1 L1563.8,1834.9 L1565.8,1829.4 L1567.8,1824.7 L1569.8,1820.9 L1571.8,1817.9 L1573.8,1815.8 L1575.8,1814.7 L1577.8,1814.6 L1579.8,1815.6 L1581.8,1817.5 L1583.8,1820.4 L1585.8,1824.3 L1587.8,1829.0 L1589.8,1834.6 L1591.8,1841.0 L1593.9,1848.1 L1595.9,1855.9 L1597.9,1864.1 L1599.9,1872.8 L1601.9,1881.9 L1603.9,1891.2 L1605.9,1900.7 L1607.9,1910.3 L1609.9,1919.9 L1611.9,1929.3 L1613.9,1938.6 L1615.9,1947.7 L1617.9,1956.6 L1619.9,1965.0 L1621.9,1973.2 L1623.9,1980.9 L1625.9,1988.2 L1627.9,1995.0 L1629.9,2001.4 L1631.9,2007.4 L1633.9,2012.9 L1635.9,2018.0 L1637.9,2022.7 L1639.9,2026.9 L1641.9,2030.8 L1643.9,2034.3 L1645.9,2037.5 L1647.9,2040.4 L1649.9,2043.0 L1651.9,2045.3 L1654.0,2047.4 L1656.0,2049.3 L1658.0,2051.0 L1660.0,2052.6 L1662.0,2053.9 L1664.0,2055.2 L1666.0,2056.4 L1668.0,2057.4 L1670.0,2058.4 L1672.0,2059.3 L1674.0,2060.2 L1676.0,2061.0 L1678.0,2061.7 L1680.0,2062.4 L1682.0,2063.1 L1684.0,2063.8 L1686.0,2064.5 L1688.0,2065.1 L1690.0,2065.8 L1692.0,2066.4 L1694.0,2067.0 L1696.0,2067.6 L1698.0,2068.3 L1700.0,2068.9 L1702.0,2069.5 L1704.0,2070.1 L1706.0,2070.7 L1708.0,2071.3 L1710.0,2071.9 L1712.1,2072.6 L1714.1,2073.2 L1716.1,2073.8 L1718.1,2074.4 L1720.1,2075.0 L1722.1,2075.6 L1724.1,2076.2 L1726.1,2076.8 L1728.1,2077.4 L1730.1,2078.0 L1732.1,2078.6 L1734.1,2079.2 L1736.1,2079.8 L1738.1,2080.4 L1740.1,2081.0 L1742.1,2081.6 L1744.1,2082.2 L1746.1,2082.8 L1748.1,2083.4 L1750.1,2084.0 L1752.1,2084.6 L1754.1,2085.2 L1756.1,2085.8 L1758.1,2086.4 L1760.1,2087.0 L1762.1,2087.6 L1764.1,2088.1 L1766.1,2088.7 L1768.1,2089.3 L1770.1,2089.8 L1772.2,2090.4 L1774.2,2090.9 L1776.2,2091.5 L1778.2,2092.0 L1780.2,2092.6 L1782.2,2093.1 L1784.2,2093.7 L1786.2,2094.2 L1788.2,2094.7 L1790.2,2095.3 L1792.2,2095.8 L1794.2,2096.4 L1796.2,2096.9 L1798.2,2097.4 L1800.2,2098.0 L1802.2,2098.5 L1804.2,2099.0 L1806.2,2099.6 L1808.2,2100.1 L1810.2,2100.6 L1812.2,2101.2 L1814.2,2101.7 L1816.2,2102.2 L1818.2,2102.8 L1820.2,2103.3 L1822.2,2103.9 L1824.2,2104.4 L1826.2,2104.9 L1828.2,2105.4 L1830.3,2106.0 L1832.3,2106.5 L1834.3,2107.0 L1836.3,2107.5 L1838.3,2108.0 L1840.3,2108.5 L1842.3,2109.0 L1844.3,2109.5 L1846.3,2110.0 L1848.3,2110.4 L1850.3,2110.9 L1852.3,2111.4 L1854.3,2111.8 L1856.3,2112.3 L1858.3,2112.7 L1860.3,2113.2 L1862.3,2113.7 L1864.3,2114.1 L1866.3,2114.5 L1868.3,2115.0 L1870.3,2115.4 L1872.3,2115.8 L1874.3,2116.3 L1876.3,2116.7 L1878.3,2117.1 L1880.3,2117.5 L1882.3,2117.9 L1884.3,2118.3 L1886.3,2118.7 L1888.3,2119.1 L1890.4,2119.5 L1892.4,2119.8 L1894.4,2120.2 L1896.4,2120.6 L1898.4,2120.9 L1900.4,2121.3 L1902.4,2121.6 L1904.4,2122.0 L1906.4,2122.3 L1908.4,2122.7 L1910.4,2123.0 L1912.4,2123.4 L1914.4,2123.7 L1916.4,2124.1 L1918.4,2124.4 L1920.4,2124.8 L1922.4,2125.1 L1924.4,2125.5 L1926.4,2125.8 L1928.4,2126.2 L1930.4,2126.6 L1932.4,2126.9 L1934.4,2127.3 L1936.4,2127.7 L1938.4,2128.0 L1940.4,2128.4 L1942.4,2128.8 L1944.4,2129.2 L1946.4,2129.5 L1948.4,2129.9 L1950.5,2130.3 L1952.5,2130.7 L1954.5,2131.0 L1956.5,2131.4 L1958.5,2131.8 L1960.5,2132.2 L1962.5,2132.5 L1964.5,2132.9 L1966.5,2133.3 L1968.5,2133.7 L1970.5,2134.1 L1972.5,2134.4 L1974.5,2134.8 L1976.5,2135.2 L1978.5,2135.6" fill="none" stroke="#000" stroke-width="11.4" stroke-linejoin="round" stroke-linecap="butt"/>
<path d="M1457.6,2008.5 L1458.6,2008.6 L1459.6,2008.7 L1460.6,2008.9 L1461.6,2009.0 L1462.6,2009.1 L1463.6,2009.2 L1464.6,2009.3 L1465.6,2009.4 L1466.6,2009.6 L1467.6,2009.7 L1468.6,2009.8 L1469.6,2009.9 L1470.6,2010.0 L1471.6,2010.1 L1472.6,2010.2 L1473.6,2010.4 L1474.7,2010.5 L1475.7,2010.6 L1476.7,2010.7 L1477.7,2010.8 L1478.7,2010.9 L1479.7,2011.0 L1480.7,2011.1 L1481.7,2011.1 L1482.7,2011.2 L1483.7,2011.3 L1484.7,2011.4 L1485.7,2011.4 L1486.7,2011.5 L1487.7,2011.5 L1488.7,2011.5 L1489.7,2011.5 L1490.7,2011.6 L1491.7,2011.6 L1492.7,2011.5 L1493.7,2011.5 L1494.7,2011.5 L1495.7,2011.4 L1496.7,2011.3 L1497.7,2011.2 L1498.7,2011.1 L1499.7,2010.9 L1500.7,2010.8 L1501.7,2010.6 L1502.7,2010.3 L1503.7,2010.1 L1504.7,2009.8 L1505.7,2009.4 L1506.7,2009.1 L1507.7,2008.7 L1508.7,2008.2 L1509.7,2007.7 L1510.7,2007.2 L1511.7,2006.6 L1512.7,2006.0 L1513.7,2005.3 L1514.7,2004.6 L1515.7,2003.8 L1516.7,2003.0 L1517.7,2002.1 L1518.7,2001.1 L1519.7,2000.1 L1520.7,1999.0 L1521.7,1997.9 L1522.7,1996.6 L1523.7,1995.4 L1524.7,1994.0 L1525.7,1992.6 L1526.7,1991.1 L1527.7,1989.6 L1528.7,1988.0 L1529.7,1986.3 L1530.7,1984.5 L1531.7,1982.7 L1532.7,1980.8 L1533.8,1978.9 L1534.8,1976.9 L1535.8,1974.8 L1536.8,1972.7 L1537.8,1970.5 L1538.8,1968.3 L1539.8,1966.0 L1540.8,1963.7 L1541.8,1961.3 L1542.8,1958.9 L1543.8,1956.5 L1544.8,1954.1 L1545.8,1951.6 L1546.8,1949.1 L1547.8,1946.6 L1548.8,1944.1 L1549.8,1941.6 L1550.8,1939.1 L1551.8,1936.6 L1552.8,1934.2 L1553.8,1931.8 L1554.8,1929.4 L1555.8,1927.0 L1556.8,1924.7 L1557.8,1922.5 L1558.8,1920.3 L1559.8,1918.2 L1560.8,1916.2 L1561.8,1914.3 L1562.8,1912.4 L1563.8,1910.7 L1564.8,1909.1 L1565.8,1907.5 L1566.8,1906.1 L1567.8,1904.9 L1568.8,1903.7 L1569.8,1902.7 L1570.8,1901.8 L1571.8,1901.0 L1572.8,1900.4 L1573.8,1900.0 L1574.8,1899.7 L1575.8,1899.5 L1576.8,1899.5 L1577.8,1899.7 L1578.8,1900.0 L1579.8,1900.4 L1580.8,1901.1 L1581.8,1901.8 L1582.8,1902.7 L1583.8,1903.8 L1584.8,1905.0 L1585.8,1906.4 L1586.8,1907.9 L1587.8,1909.5 L1588.8,1911.3 L1589.8,1913.2 L1590.8,1915.2 L1591.8,1917.3 L1592.9,1919.5 L1593.9,1921.9 L1594.9,1924.3 L1595.9,1926.8 L1596.9,1929.4 L1597.9,1932.1 L1598.9,1934.9 L1599.9,1937.7 L1600.9,1940.5 L1601.9,1943.5 L1602.9,1946.4 L1603.9,1949.4 L1604.9,1952.4 L1605.9,1955.4 L1606.9,1958.5 L1607.9,1961.5 L1608.9,1964.6 L1609.9,1967.6 L1610.9,1970.6 L1611.9,1973.6 L1612.9,1976.6 L1613.9,1979.6 L1614.9,1982.5 L1615.9,1985.4 L1616.9,1988.2 L1617.9,1991.0 L1618.9,1993.7 L1619.9,1996.4 L1620.9,1999.0 L1621.9,2001.6 L1622.9,2004.1 L1623.9,2006.6 L1624.9,2008.9 L1625.9,2011.3 L1626.9,2013.5 L1627.9,2015.7 L1628.9,2017.8 L1629.9,2019.8 L1630.9,2021.8 L1631.9,2023.7 L1632.9,2025.5 L1633.9,2027.3 L1634.9,2029.0 L1635.9,2030.6 L1636.9,2032.2 L1637.9,2033.7 L1638.9,2035.2 L1639.9,2036.6 L1640.9,2037.9 L1641.9,2039.1 L1642.9,2040.4 L1643.9,2041.5 L1644.9,2042.6 L1645.9,2043.7 L1646.9,2044.7 L1647.9,2045.7 L1648.9,2046.6 L1649.9,2047.5 L1650.9,2048.3 L1651.9,2049.1 L1653.0,2049.9 L1654.0,2050.6 L1655.0,2051.3 L1656.0,2052.0 L1657.0,2052.6 L1658.0,2053.3 L1659.0,2053.9 L1660.0,2054.4 L1661.0,2055.0 L1662.0,2055.5 L1663.0,2056.0 L1664.0,2056.5 L1665.0,2057.0 L1666.0,2057.4 L1667.0,2057.9 L1668.0,2058.3 L1669.0,2058.7 L1670.0,2059.1 L1671.0,2059.5 L1672.0,2059.9 L1673.0,2060.2 L1674.0,2060.6 L1675.0,2061.0 L1676.0,2061.3 L1677.0,2061.7 L1678.0,2062.0 L1679.0,2062.3 L1680.0,2062.7 L1681.0,2063.0 L1682.0,2063.3 L1683.0,2063.6 L1684.0,2064.0 L1685.0,2064.3 L1686.0,2064.6 L1687.0,2064.9 L1688.0,2065.2 L1689.0,2065.5 L1690.0,2065.8 L1691.0,2066.1 L1692.0,2066.4 L1693.0,2066.7 L1694.0,2067.1 L1695.0,2067.4 L1696.0,2067.7 L1697.0,2068.0 L1698.0,2068.3" fill="none" stroke="#000" stroke-width="11.4" stroke-linejoin="round" stroke-dasharray="10.8 17.8" stroke-dashoffset="27.6"/>
<path d="M375.8,1358.0 L378.8,1358.4 L381.8,1358.7 L384.8,1359.1 L387.8,1359.5 L390.9,1359.9 L393.9,1360.3 L396.9,1360.7 L399.9,1361.1 L402.9,1361.6 L405.9,1362.0 L408.9,1362.4 L411.9,1362.9 L414.9,1363.4 L418.0,1363.8 L421.0,1364.3 L424.0,1364.8 L427.0,1365.3 L430.0,1365.8 L433.0,1366.3 L436.0,1366.8 L439.0,1367.3 L442.0,1367.9 L445.1,1368.4 L448.1,1369.0 L451.1,1369.5 L454.1,1370.1 L457.1,1370.7 L460.1,1371.3 L463.1,1371.9 L466.1,1372.5 L469.1,1373.1 L472.2,1373.7 L475.2,1374.3 L478.2,1375.0 L481.2,1375.6 L484.2,1376.3 L487.2,1377.0 L490.2,1377.6 L493.2,1378.3 L496.2,1379.0 L499.2,1379.7 L502.3,1380.4 L505.3,1381.2 L508.3,1381.9 L511.3,1382.6 L514.3,1383.4 L517.3,1384.2 L520.3,1384.9 L523.3,1385.7 L526.3,1386.5 L529.4,1387.3 L532.4,1388.1 L535.4,1388.9 L538.4,1389.8 L541.4,1390.6 L544.4,1391.4 L547.4,1392.3 L550.4,1393.2 L553.4,1394.0 L556.5,1394.9 L559.5,1395.8 L562.5,1396.7 L565.5,1397.7 L568.5,1398.6 L571.5,1399.5 L574.5,1400.5 L577.5,1401.4 L580.5,1402.4 L583.6,1403.4 L586.6,1404.4 L589.6,1405.4 L592.6,1406.4 L595.6,1407.4 L598.6,1408.4 L601.6,1409.5 L604.6,1410.5 L607.6,1411.6 L610.7,1412.7 L613.7,1413.8 L616.7,1414.8 L619.7,1416.0 L622.7,1417.1 L625.7,1418.2 L628.7,1419.3 L631.7,1420.5 L634.7,1421.6 L637.8,1422.8 L640.8,1424.0 L643.8,1425.2 L646.8,1426.4 L649.8,1427.6 L652.8,1428.8 L655.8,1430.1 L658.8,1431.3 L661.8,1432.6 L664.9,1433.9 L667.9,1435.1 L670.9,1436.4 L673.9,1437.7 L676.9,1439.0 L679.9,1440.4 L682.9,1441.7 L685.9,1443.0 L688.9,1444.4 L692.0,1445.7 L695.0,1447.1 L698.0,1448.5 L701.0,1449.9 L704.0,1451.3 L707.0,1452.7 L710.0,1454.1 L713.0,1455.6 L716.0,1457.0 L719.1,1458.5 L722.1,1459.9 L725.1,1461.4 L728.1,1462.9 L731.1,1464.4 L734.1,1465.9 L737.1,1467.4 L740.1,1468.9 L743.1,1470.5 L746.2,1472.0 L749.2,1473.6 L752.2,1475.1 L755.2,1476.7 L758.2,1478.3 L761.2,1479.9 L764.2,1481.5 L767.2,1483.1 L770.2,1484.8 L773.2,1486.4 L776.3,1488.0 L779.3,1489.7 L782.3,1491.3 L785.3,1493.0 L788.3,1494.7 L791.3,1496.4 L794.3,1498.1 L797.3,1499.8 L800.3,1501.5 L803.4,1503.3 L806.4,1505.0 L809.4,1506.8 L812.4,1508.5 L815.4,1510.3 L818.4,1512.1 L821.4,1513.8 L824.4,1515.6 L827.4,1517.5 L830.5,1519.3 L833.5,1521.1 L836.5,1522.9 L839.5,1524.8 L842.5,1526.6 L845.5,1528.5 L848.5,1530.4 L851.5,1532.2 L854.5,1534.1 L857.6,1536.0 L860.6,1537.9 L863.6,1539.8 L866.6,1541.8 L869.6,1543.7 L872.6,1545.6 L875.6,1547.6 L878.6,1549.6 L881.6,1551.5 L884.7,1553.5 L887.7,1555.5 L890.7,1557.5 L893.7,1559.5 L896.7,1561.5 L899.7,1563.6 L902.7,1565.6 L905.7,1567.7 L908.7,1569.8 L911.8,1571.9 L914.8,1574.0 L917.8,1576.1 L920.8,1578.2 L923.8,1580.4 L926.8,1582.6 L929.8,1584.7 L932.8,1587.0 L935.8,1589.2 L938.9,1591.4 L941.9,1593.7 L944.9,1596.0 L947.9,1598.3 L950.9,1600.6 L953.9,1603.0 L956.9,1605.4 L959.9,1607.8 L962.9,1610.2 L966.0,1612.6 L969.0,1615.1 L972.0,1617.6 L975.0,1620.1 L978.0,1622.7 L981.0,1625.3 L984.0,1627.9 L987.0,1630.5 L990.0,1633.2 L993.0,1635.9 L996.1,1638.6 L999.1,1641.3 L1002.1,1644.1 L1005.1,1646.9 L1008.1,1649.8 L1011.1,1652.7 L1014.1,1655.6 L1017.1,1658.5 L1020.1,1661.5 L1023.2,1664.5 L1026.2,1667.6 L1029.2,1670.6 L1032.2,1673.8 L1035.2,1676.9 L1038.2,1680.1 L1041.2,1683.3 L1044.2,1686.6 L1047.2,1689.9 L1050.3,1693.3 L1053.3,1696.6 L1056.3,1700.1 L1059.3,1703.5 L1062.3,1707.0 L1065.3,1710.6 L1068.3,1714.2 L1071.3,1717.8 L1074.3,1721.5 L1077.4,1725.2 L1080.4,1729.0 L1083.4,1732.8 L1086.4,1736.7 L1089.4,1740.6 L1092.4,1744.5 L1095.4,1748.5 L1098.4,1752.6 L1101.4,1756.7 L1104.5,1760.8 L1107.5,1765.0 L1110.5,1769.3 L1113.5,1773.6 L1116.5,1777.9 L1117.5,1779.4 L1140.0,1780.4 L1340.0,1783.8 L1423.0,1784.7 L1484.0,1784.9 L1490.8,1784.8 L1501.0,1783.4 L1509.1,1784.1 L1517.7,1782.4 L1528.5,1780.5 L1539.3,1777.6 L1546.8,1774.6 L1553.3,1770.3 L1558.7,1765.7 L1563.0,1763.5 L1567.3,1764.4 L1571.6,1769.2 L1574.9,1777.8 L1577.6,1788.6 L1580.8,1798.3 L1584.0,1803.7 L1587.8,1805.7 L1598.6,1805.9 L1640.0,1805.4 L1700.0,1805.0 L1860.0,1804.2 L1938.5,1804.0 L1938.5,1833.4 L1870.0,1831.5 L1804.3,1829.5 L1745.0,1827.3 L1700.0,1825.3 L1670.0,1823.7 L1651.4,1822.4 L1640.0,1821.5 L1631.0,1819.9 L1620.2,1818.5 L1609.4,1817.1 L1598.6,1815.5 L1590.0,1812.6 L1585.5,1808.6 L1583.7,1806.1" fill="none" stroke="#4682b4" stroke-width="10.7" stroke-linejoin="miter" stroke-miterlimit="4" stroke-linecap="butt"/>
</g>
<rect x="375.8" y="1151.1" width="1602.7" height="984.5" fill="none" stroke="#000" stroke-width="5.8"/>
<line x1="350.3" x2="375.8" y1="1315.2" y2="1315.2" stroke="#000" stroke-width="5.8"/>
<text x="326.0" y="1342.9" font-size="72.5" text-anchor="end">1500</text>
<line x1="350.3" x2="375.8" y1="1479.3" y2="1479.3" stroke="#000" stroke-width="5.8"/>
<text x="326.0" y="1507.0" font-size="72.5" text-anchor="end">1000</text>
<line x1="350.3" x2="375.8" y1="1643.3" y2="1643.3" stroke="#000" stroke-width="5.8"/>
<text x="326.0" y="1671.0" font-size="72.5" text-anchor="end">500</text>
<line x1="350.3" x2="375.8" y1="1807.4" y2="1807.4" stroke="#000" stroke-width="5.8"/>
<text x="326.0" y="1835.1" font-size="72.5" text-anchor="end">0</text>
<line x1="350.3" x2="375.8" y1="1971.5" y2="1971.5" stroke="#000" stroke-width="5.8"/>
<text x="326.0" y="1999.2" font-size="72.5" text-anchor="end">−500</text>
<line x1="375.8" x2="375.8" y1="2135.6" y2="2160.4" stroke="#000" stroke-width="5.8"/>
<line x1="776.5" x2="776.5" y1="2135.6" y2="2160.4" stroke="#000" stroke-width="5.8"/>
<line x1="1177.2" x2="1177.2" y1="2135.6" y2="2160.4" stroke="#000" stroke-width="5.8"/>
<line x1="1577.8" x2="1577.8" y1="2135.6" y2="2160.4" stroke="#000" stroke-width="5.8"/>
<line x1="1978.5" x2="1978.5" y1="2135.6" y2="2160.4" stroke="#000" stroke-width="5.8"/>
<text transform="translate(90.8,1643.5) rotate(-90)" font-size="72.0" text-anchor="middle">Elevation (m)</text>
<g clip-path="url(#c2)">
<clipPath id="c2"><rect x="375.8" y="2276.8" width="1602.7" height="984.5"/></clipPath>
<line x1="375.8" x2="1978.5" y1="2933.1" y2="2933.1" stroke="#8c8c8c" stroke-width="1.3"/>
<rect x="1933.1" y="2983.3" width="10.5" height="7.4" fill="#dc143c"/>
<rect x="1933.1" y="2964.0" width="10.7" height="2.2" fill="#dc143c"/>
<path d="M375.8,2547.5 L378.8,2547.9 L381.8,2548.3 L384.8,2548.7 L387.8,2549.1 L390.8,2549.5 L393.8,2549.9 L396.8,2550.4 L399.8,2550.9 L402.8,2551.4 L405.8,2551.9 L408.8,2552.4 L411.8,2552.9 L414.8,2553.5 L417.8,2554.0 L420.8,2554.6 L423.9,2555.2 L426.9,2555.8 L429.9,2556.4 L432.9,2557.0 L435.9,2557.7 L438.9,2558.3 L441.9,2559.0 L444.9,2559.7 L447.9,2560.4 L450.9,2561.1 L453.9,2561.8 L456.9,2562.5 L459.9,2563.3 L462.9,2564.0 L465.9,2564.8 L468.9,2565.6 L471.9,2566.4 L474.9,2567.2 L477.9,2568.0 L480.9,2568.9 L483.9,2569.7 L486.9,2570.6 L489.9,2571.5 L492.9,2572.4 L495.9,2573.3 L498.9,2574.2 L501.9,2575.1 L504.9,2576.1 L507.9,2577.0 L510.9,2578.0 L513.9,2578.9 L516.9,2579.9 L520.0,2580.9 L523.0,2581.9 L526.0,2583.0 L529.0,2584.0 L532.0,2585.0 L535.0,2586.1 L538.0,2587.2 L541.0,2588.3 L544.0,2589.3 L547.0,2590.5 L550.0,2591.6 L553.0,2592.7 L556.0,2593.8 L559.0,2595.0 L562.0,2596.1 L565.0,2597.3 L568.0,2598.5 L571.0,2599.7 L574.0,2600.9 L577.0,2602.1 L580.0,2603.3 L583.0,2604.6 L586.0,2605.8 L589.0,2607.1 L592.0,2608.4 L595.0,2609.7 L598.0,2611.0 L601.0,2612.3 L604.0,2613.6 L607.0,2615.0 L610.0,2616.3 L613.0,2617.7 L616.1,2619.1 L619.1,2620.4 L622.1,2621.9 L625.1,2623.3 L628.1,2624.7 L631.1,2626.2 L634.1,2627.6 L637.1,2629.1 L640.1,2630.6 L643.1,2632.1 L646.1,2633.6 L649.1,2635.1 L652.1,2636.7 L655.1,2638.2 L658.1,2639.8 L661.1,2641.4 L664.1,2643.0 L667.1,2644.6 L670.1,2646.2 L673.1,2647.9 L676.1,2649.5 L679.1,2651.2 L682.1,2652.9 L685.1,2654.6 L688.1,2656.4 L691.1,2658.1 L694.1,2659.9 L697.1,2661.6 L700.1,2663.4 L703.1,2665.2 L706.1,2667.0 L709.1,2668.9 L712.2,2670.7 L715.2,2672.6 L718.2,2674.5 L721.2,2676.4 L724.2,2678.3 L727.2,2680.3 L730.2,2682.2 L733.2,2684.2 L736.2,2686.2 L739.2,2688.2 L742.2,2690.3 L745.2,2692.3 L748.2,2694.4 L751.2,2696.5 L754.2,2698.7 L757.2,2700.8 L760.2,2703.0 L763.2,2705.2 L766.2,2707.4 L769.2,2709.7 L772.2,2712.0 L775.2,2714.3 L778.2,2716.6 L781.2,2719.0 L784.2,2721.3 L787.2,2723.8 L790.2,2726.2 L793.2,2728.7 L796.2,2731.2 L799.2,2733.7 L802.2,2736.3 L805.2,2738.9 L808.3,2741.5 L811.3,2744.2 L814.3,2746.8 L817.3,2749.6 L820.3,2752.3 L823.3,2755.1 L826.3,2757.9 L829.3,2760.8 L832.3,2763.7 L835.3,2766.6 L838.3,2769.6 L841.3,2772.6 L844.3,2775.6 L847.3,2778.7 L850.3,2781.8 L853.3,2785.0 L856.3,2788.2 L859.3,2791.4 L862.3,2794.7 L865.3,2798.0 L868.3,2801.4 L871.3,2804.8 L874.3,2808.3 L877.3,2811.7 L880.3,2815.3 L883.3,2818.9 L886.3,2822.5 L889.3,2826.2 L892.3,2829.9 L895.3,2833.7 L898.3,2837.5 L901.3,2841.4 L904.4,2845.3 L907.4,2849.3 L910.4,2853.4 L913.4,2857.5 L916.4,2861.6 L919.4,2865.8 L922.4,2870.1 L925.4,2874.4 L928.4,2878.7 L931.4,2883.2 L934.4,2887.7 L937.4,2892.2 L940.4,2896.8 L943.4,2901.5 L946.4,2906.2 L949.4,2911.0 L957.1,2911.4 L979.3,2912.6 L1006.4,2913.0 L1122.0,2914.7 L1322.0,2917.6 L1407.0,2919.4 L1500.0,2920.9 L1610.0,2922.7 L1900.0,2926.1 L1938.5,2926.5" fill="none" stroke="#dc143c" stroke-width="10.7" stroke-linejoin="miter" stroke-dasharray="10.75 17.82" stroke-dashoffset="16.58"/>
<path d="M1929.5,2991.9 L1918.0,2992.2 L1889.5,2993.2 L1861.2,2994.7 L1832.6,2996.0 L1804.0,2997.5 L1775.3,2999.3 L1746.9,3001.3 L1718.5,3003.6 L1690.2,3006.3 L1661.8,3009.5 L1633.5,3013.2 L1606.6,3017.0 L1577.1,3022.0 L1549.0,3026.2 L1520.7,3030.8 L1492.5,3035.0 L1464.2,3039.4 L1436.1,3043.9 L1407.8,3048.5 L1380.0,3052.5 L1351.8,3056.7 L1323.5,3061.2 L1295.2,3065.6 L1266.9,3069.7 L1238.6,3073.7 L1210.2,3077.8 L1178.8,3082.4 L1150.4,3086.5 L1121.8,3090.2 L1093.4,3092.6 L1064.8,3094.6 L1035.6,3097.5 L1008.0,3099.7 L979.4,3104.0 L965.0,3110.3 L955.3,3117.3 L942.0,3129.8" fill="none" stroke="#dc143c" stroke-width="10.7" stroke-linejoin="miter" stroke-dasharray="10.75 17.82" stroke-dashoffset="21.20"/>
<path d="M375.8,2379.7 L378.8,2380.0 L381.8,2380.3 L384.8,2380.6 L387.8,2380.9 L390.8,2381.2 L393.8,2381.5 L396.8,2381.8 L399.8,2382.2 L402.9,2382.5 L405.9,2382.9 L408.9,2383.2 L411.9,2383.6 L414.9,2383.9 L417.9,2384.3 L420.9,2384.7 L423.9,2385.0 L426.9,2385.4 L429.9,2385.8 L432.9,2386.2 L435.9,2386.6 L438.9,2387.0 L441.9,2387.4 L444.9,2387.9 L447.9,2388.3 L451.0,2388.7 L454.0,2389.2 L457.0,2389.6 L460.0,2390.1 L463.0,2390.5 L466.0,2391.0 L469.0,2391.4 L472.0,2391.9 L475.0,2392.4 L478.0,2392.9 L481.0,2393.4 L484.0,2393.9 L487.0,2394.4 L490.0,2394.9 L493.0,2395.4 L496.0,2396.0 L499.1,2396.5 L502.1,2397.0 L505.1,2397.6 L508.1,2398.1 L511.1,2398.7 L514.1,2399.3 L517.1,2399.8 L520.1,2400.4 L523.1,2401.0 L526.1,2401.6 L529.1,2402.2 L532.1,2402.8 L535.1,2403.4 L538.1,2404.0 L541.1,2404.6 L544.1,2405.3 L547.1,2405.9 L550.2,2406.5 L553.2,2407.2 L556.2,2407.9 L559.2,2408.5 L562.2,2409.2 L565.2,2409.9 L568.2,2410.5 L571.2,2411.2 L574.2,2411.9 L577.2,2412.6 L580.2,2413.3 L583.2,2414.1 L586.2,2414.8 L589.2,2415.5 L592.2,2416.2 L595.2,2417.0 L598.3,2417.7 L601.3,2418.5 L604.3,2419.3 L607.3,2420.0 L610.3,2420.8 L613.3,2421.6 L616.3,2422.4 L619.3,2423.2 L622.3,2424.0 L625.3,2424.8 L628.3,2425.6 L631.3,2426.4 L634.3,2427.3 L637.3,2428.1 L640.3,2428.9 L643.3,2429.8 L646.4,2430.6 L649.4,2431.5 L652.4,2432.4 L655.4,2433.3 L658.4,2434.1 L661.4,2435.0 L664.4,2435.9 L667.4,2436.8 L670.4,2437.8 L673.4,2438.7 L676.4,2439.6 L679.4,2440.5 L682.4,2441.5 L685.4,2442.4 L688.4,2443.4 L691.4,2444.3 L694.4,2445.3 L697.5,2446.3 L700.5,2447.3 L703.5,2448.3 L706.5,2449.3 L709.5,2450.3 L712.5,2451.3 L715.5,2452.3 L718.5,2453.3 L721.5,2454.4 L724.5,2455.4 L727.5,2456.4 L730.5,2457.5 L733.5,2458.6 L736.5,2459.6 L739.5,2460.7 L742.5,2461.8 L745.6,2462.9 L748.6,2464.0 L751.6,2465.1 L754.6,2466.2 L757.6,2467.3 L760.6,2468.5 L763.6,2469.6 L766.6,2470.7 L769.6,2471.9 L772.6,2473.0 L775.6,2474.2 L778.6,2475.4 L781.6,2476.5 L784.6,2477.7 L787.6,2478.9 L790.6,2480.1 L793.7,2481.3 L796.7,2482.5 L799.7,2483.7 L802.7,2484.9 L805.7,2486.1 L808.7,2487.4 L811.7,2488.6 L814.7,2489.8 L817.7,2491.1 L820.7,2492.3 L823.7,2493.5 L826.7,2494.8 L829.7,2496.1 L832.7,2497.3 L835.7,2498.6 L838.7,2499.8 L841.7,2501.1 L844.8,2502.4 L847.8,2503.7 L850.8,2505.0 L853.8,2506.2 L856.8,2507.5 L859.8,2508.8 L862.8,2510.1 L865.8,2511.4 L868.8,2512.7 L871.8,2514.0 L874.8,2515.3 L877.8,2516.6 L880.8,2517.9 L883.8,2519.3 L886.8,2520.6 L889.8,2521.9 L892.9,2523.2 L895.9,2524.5 L898.9,2525.9 L901.9,2527.2 L904.9,2528.5 L907.9,2529.8 L910.9,2531.2 L913.9,2532.5 L916.9,2533.8 L919.9,2535.1 L922.9,2536.5 L925.9,2537.8 L928.9,2539.1 L931.9,2540.5 L934.9,2541.8 L937.9,2543.1 L941.0,2544.5 L944.0,2545.8 L947.0,2547.1 L950.0,2548.4 L953.0,2549.8 L956.0,2551.1 L959.0,2552.4 L962.0,2553.8 L965.0,2555.1 L968.0,2556.4 L971.0,2557.7 L974.0,2559.0 L977.0,2560.4 L980.0,2561.7 L983.0,2563.0 L986.0,2564.3 L989.1,2565.6 L992.1,2566.9 L995.1,2568.2 L998.1,2569.6 L1001.1,2570.9 L1004.1,2572.2 L1007.1,2573.5 L1010.1,2574.8 L1013.1,2576.0 L1016.1,2577.3 L1019.1,2578.6 L1022.1,2579.9 L1025.1,2581.2 L1028.1,2582.5 L1031.1,2583.8 L1034.1,2585.1 L1037.1,2586.4 L1040.2,2587.6 L1043.2,2588.9 L1046.2,2590.2 L1049.2,2591.5 L1052.2,2592.8 L1055.2,2594.1 L1058.2,2595.4 L1061.2,2596.7 L1064.2,2598.0 L1067.2,2599.3 L1070.2,2600.6 L1073.2,2601.9 L1076.2,2603.2 L1079.2,2604.5 L1082.2,2605.8 L1085.2,2607.1 L1088.3,2608.4 L1091.3,2609.7 L1094.3,2611.1 L1097.3,2612.4 L1100.3,2613.7 L1103.3,2615.1 L1106.3,2616.4 L1109.3,2617.7 L1112.3,2619.1 L1115.3,2620.5 L1118.3,2621.8 L1121.3,2623.2 L1124.3,2624.6 L1127.3,2626.0 L1130.3,2627.4 L1133.3,2628.8 L1136.4,2630.2 L1139.4,2631.6 L1142.4,2633.0 L1145.4,2634.4 L1148.4,2635.9 L1151.4,2637.3 L1154.4,2638.8 L1157.4,2640.2 L1160.4,2641.7 L1163.4,2643.2 L1166.4,2644.7 L1169.4,2646.2 L1172.4,2647.7 L1175.4,2649.2 L1178.4,2650.7 L1181.4,2652.3 L1184.4,2653.8 L1187.5,2655.4 L1190.5,2656.9 L1193.5,2658.5 L1196.5,2660.1 L1199.5,2661.7 L1202.5,2663.4 L1205.5,2665.0 L1208.5,2666.6 L1211.5,2668.3 L1214.5,2670.0 L1217.5,2671.6 L1220.5,2673.3 L1223.5,2675.1 L1226.5,2676.8 L1229.5,2678.5 L1232.5,2680.3 L1235.6,2682.0 L1238.6,2683.8 L1241.6,2685.6 L1244.6,2687.4 L1247.6,2689.3 L1250.6,2691.1 L1253.6,2693.0 L1256.6,2694.8 L1259.6,2696.7 L1262.6,2698.7 L1265.6,2700.6 L1268.6,2702.5 L1271.6,2704.5 L1274.6,2706.5 L1277.6,2708.6 L1280.6,2710.6 L1283.7,2712.7 L1286.7,2714.8 L1289.7,2716.9 L1292.7,2719.1 L1295.7,2721.3 L1298.7,2723.5 L1301.7,2725.8 L1304.7,2728.1 L1307.7,2730.5 L1310.7,2732.8 L1313.7,2735.3 L1316.7,2737.7 L1319.7,2740.2 L1322.7,2742.8 L1325.7,2745.4 L1328.7,2748.0 L1331.7,2750.7 L1334.8,2753.4 L1337.8,2756.2 L1340.8,2759.0 L1343.8,2761.9 L1346.8,2764.8 L1349.8,2767.8 L1352.8,2770.8 L1355.8,2773.9 L1358.8,2777.0 L1361.8,2780.2 L1364.8,2783.5 L1367.8,2786.8 L1370.8,2790.1 L1373.8,2793.5 L1376.8,2797.0 L1379.8,2800.5 L1382.9,2804.1 L1385.9,2807.7 L1388.9,2811.4 L1391.9,2815.2 L1394.9,2818.9 L1397.9,2822.7 L1400.9,2826.5 L1403.9,2830.3 L1406.9,2834.1 L1409.9,2838.0 L1412.9,2841.9 L1415.9,2845.9 L1418.9,2849.9 L1421.9,2854.0 L1424.9,2858.2 L1427.9,2862.5 L1431.0,2866.9 L1434.0,2871.4 L1437.0,2876.1 L1440.0,2880.9 L1443.0,2885.9 L1446.0,2891.0 L1449.0,2896.3 L1452.0,2901.8 L1455.0,2907.3 L1457.0,2909.6 L1470.0,2910.2 L1485.0,2910.6 L1493.5,2910.4 L1497.5,2908.8 L1501.3,2907.4 L1505.0,2908.8 L1508.5,2910.0 L1528.5,2906.2 L1539.3,2903.3 L1546.8,2900.3 L1553.3,2896.0 L1558.7,2891.4 L1563.0,2889.2 L1567.3,2890.1 L1571.6,2894.9 L1574.9,2903.5 L1577.6,2914.3 L1580.8,2924.0 L1584.0,2929.4 L1587.8,2931.4 L1598.6,2931.6 L1640.0,2931.1 L1700.0,2930.7 L1860.0,2929.9 L1938.5,2929.8 L1938.5,2960.3 L1870.0,2958.4 L1804.3,2956.4 L1745.0,2954.2 L1700.0,2952.2 L1670.0,2950.6 L1651.4,2949.3 L1640.0,2948.4 L1631.0,2946.8 L1620.2,2945.4 L1609.4,2942.8 L1598.6,2941.2 L1590.0,2938.3 L1585.5,2934.3 L1583.7,2931.8" fill="none" stroke="#808080" stroke-width="10.7" stroke-linejoin="miter" stroke-miterlimit="4" stroke-linecap="butt"/>
<path d="M1454.0,3134.3 L1455.5,3133.2 L1457.0,3132.1 L1458.5,3131.2 L1460.0,3130.1 L1461.5,3128.8 L1463.0,3127.5 L1464.5,3126.1 L1466.0,3124.8 L1467.5,3123.5 L1469.0,3122.3 L1470.5,3121.3 L1472.0,3120.4 L1473.5,3119.5 L1475.0,3118.7 L1476.5,3118.2 L1478.0,3118.1 L1479.5,3118.3 L1481.0,3118.7 L1482.5,3119.3 L1484.0,3120.0 L1485.5,3121.0 L1487.0,3122.3 L1488.5,3123.8 L1490.0,3125.2 L1491.5,3127.0 L1493.0,3129.5 L1494.5,3132.8" fill="none" stroke="#808080" stroke-width="10.7" stroke-linejoin="miter" stroke-miterlimit="4" stroke-linecap="butt"/>
<path d="M1021.0,3173.3 L1023.0,3171.7 L1025.0,3170.2 L1027.0,3168.7 L1029.0,3167.2 L1031.0,3166.0 L1033.0,3165.1 L1035.0,3164.2 L1037.0,3163.5 L1039.0,3162.8 L1041.0,3162.1 L1043.0,3161.4 L1045.1,3160.9 L1047.1,3160.4 L1049.1,3160.0 L1051.1,3159.7 L1053.1,3159.3 L1055.1,3159.1 L1057.1,3158.8 L1059.1,3158.5 L1061.1,3158.3 L1063.1,3158.1 L1065.1,3157.9 L1067.1,3157.7 L1069.1,3157.5 L1071.1,3157.3 L1073.1,3157.1 L1075.1,3156.9 L1077.1,3156.7 L1079.1,3156.5 L1081.1,3156.3 L1083.1,3156.1 L1085.1,3155.9 L1087.1,3155.7 L1089.1,3155.5 L1091.1,3155.3 L1093.2,3155.2 L1095.2,3155.0 L1097.2,3154.8 L1099.2,3154.7 L1101.2,3154.5 L1103.2,3154.3 L1105.2,3154.2 L1107.2,3154.0 L1109.2,3153.8 L1111.2,3153.7 L1113.2,3153.5 L1115.2,3153.3 L1117.2,3153.2 L1119.2,3153.0 L1121.2,3152.8 L1123.2,3152.6 L1125.2,3152.5 L1127.2,3152.3 L1129.2,3152.1 L1131.2,3152.0 L1133.2,3151.8 L1135.2,3151.7 L1137.2,3151.5 L1139.2,3151.3 L1141.3,3151.2 L1143.3,3151.0 L1145.3,3150.9 L1147.3,3150.7 L1149.3,3150.5 L1151.3,3150.4 L1153.3,3150.2 L1155.3,3150.0 L1157.3,3149.9 L1159.3,3149.7 L1161.3,3149.5 L1163.3,3149.3 L1165.3,3149.1 L1167.3,3148.9 L1169.3,3148.7 L1171.3,3148.5 L1173.3,3148.3 L1175.3,3148.1 L1177.3,3147.9 L1179.3,3147.7 L1181.3,3147.4 L1183.3,3147.2 L1185.3,3147.0 L1187.3,3146.7 L1189.4,3146.5 L1191.4,3146.2 L1193.4,3146.0 L1195.4,3145.7 L1197.4,3145.4 L1199.4,3145.2 L1201.4,3144.9 L1203.4,3144.6 L1205.4,3144.4 L1207.4,3144.1 L1209.4,3143.8 L1211.4,3143.5 L1213.4,3143.3 L1215.4,3143.0 L1217.4,3142.7 L1219.4,3142.4 L1221.4,3142.2 L1223.4,3141.9 L1225.4,3141.6 L1227.4,3141.3 L1229.4,3141.0 L1231.4,3140.7 L1233.4,3140.4 L1235.4,3140.1 L1237.5,3139.8 L1239.5,3139.5 L1241.5,3139.2 L1243.5,3138.9 L1245.5,3138.6 L1247.5,3138.3 L1249.5,3138.0 L1251.5,3137.7 L1253.5,3137.4 L1255.5,3137.1 L1257.5,3136.7 L1259.5,3136.4 L1261.5,3136.1 L1263.5,3135.8 L1265.5,3135.5 L1267.5,3135.2 L1269.5,3134.9 L1271.5,3134.6 L1273.5,3134.3 L1275.5,3134.0 L1277.5,3133.7 L1279.5,3133.3 L1281.5,3133.0 L1283.5,3132.7 L1285.6,3132.4 L1287.6,3132.1 L1289.6,3131.8 L1291.6,3131.5 L1293.6,3131.2 L1295.6,3130.8 L1297.6,3130.5 L1299.6,3130.2 L1301.6,3129.9 L1303.6,3129.6 L1305.6,3129.3 L1307.6,3129.0 L1309.6,3128.7 L1311.6,3128.4 L1313.6,3128.1 L1315.6,3127.8 L1317.6,3127.5 L1319.6,3127.2 L1321.6,3126.9 L1323.6,3126.5 L1325.6,3126.2 L1327.6,3125.9 L1329.6,3125.6 L1331.6,3125.3 L1333.7,3125.1 L1335.7,3124.8 L1337.7,3124.5 L1339.7,3124.2 L1341.7,3124.0 L1343.7,3123.7 L1345.7,3123.5 L1347.7,3123.3 L1349.7,3123.1 L1351.7,3122.9 L1353.7,3122.6 L1355.7,3122.4 L1357.7,3122.2 L1359.7,3122.0 L1361.7,3121.9 L1363.7,3121.7 L1365.7,3121.5 L1367.7,3121.3 L1369.7,3121.1 L1371.7,3120.9 L1373.7,3120.7 L1375.7,3120.5 L1377.7,3120.3 L1379.7,3120.1 L1381.8,3119.8 L1383.8,3119.6 L1385.8,3119.4 L1387.8,3119.1 L1389.8,3118.9 L1391.8,3118.6 L1393.8,3118.3 L1395.8,3118.0 L1397.8,3117.7 L1399.8,3117.4 L1401.8,3117.0 L1403.8,3116.7 L1405.8,3116.3 L1407.8,3115.9 L1409.8,3115.5 L1411.8,3115.1 L1413.8,3114.7 L1415.8,3114.2 L1417.8,3113.8 L1419.8,3113.4 L1421.8,3113.0 L1423.8,3112.5 L1425.8,3112.1 L1427.8,3111.7 L1429.9,3111.3 L1431.9,3110.9 L1433.9,3110.5 L1435.9,3110.1 L1437.9,3109.7 L1439.9,3109.3 L1441.9,3108.9 L1443.9,3108.5 L1445.9,3108.1 L1447.9,3107.7 L1449.9,3107.4 L1451.9,3107.1 L1453.9,3106.8 L1455.9,3106.5 L1457.9,3106.2 L1459.9,3106.0 L1461.9,3106.0 L1463.9,3106.0 L1465.9,3106.1 L1467.9,3106.1 L1469.9,3106.2 L1471.9,3106.5 L1473.9,3106.9 L1475.9,3107.4 L1478.0,3108.1 L1480.0,3109.1 L1482.0,3110.4 L1484.0,3112.0 L1486.0,3113.6 L1488.0,3115.2 L1490.0,3117.1 L1492.0,3119.6 L1494.0,3122.4 L1496.0,3125.2 L1498.0,3128.6 L1500.0,3133.3" fill="none" stroke="#4682b4" stroke-width="10.7" stroke-linejoin="miter" stroke-miterlimit="4" stroke-linecap="butt"/>
<path d="M375.8,3064.4 L377.8,3064.4 L379.8,3064.4 L381.8,3064.4 L383.8,3064.4 L385.8,3064.4 L387.8,3064.4 L389.8,3064.4 L391.8,3064.4 L393.8,3064.4 L395.8,3064.4 L397.8,3064.4 L399.8,3064.4 L401.8,3064.4 L403.8,3064.4 L405.9,3064.4 L407.9,3064.4 L409.9,3064.4 L411.9,3064.4 L413.9,3064.4 L415.9,3064.4 L417.9,3064.4 L419.9,3064.4 L421.9,3064.4 L423.9,3064.4 L425.9,3064.4 L427.9,3064.4 L429.9,3064.4 L431.9,3064.4 L433.9,3064.4 L435.9,3064.4 L437.9,3064.4 L439.9,3064.4 L441.9,3064.4 L443.9,3064.4 L445.9,3064.4 L447.9,3064.4 L449.9,3064.4 L451.9,3064.4 L453.9,3064.4 L455.9,3064.4 L457.9,3064.4 L459.9,3064.4 L461.9,3064.4 L463.9,3064.4 L466.0,3064.4 L468.0,3064.4 L470.0,3064.4 L472.0,3064.4 L474.0,3064.4 L476.0,3064.4 L478.0,3064.4 L480.0,3064.4 L482.0,3064.4 L484.0,3064.4 L486.0,3064.4 L488.0,3064.4 L490.0,3064.4 L492.0,3064.4 L494.0,3064.4 L496.0,3064.4 L498.0,3064.4 L500.0,3064.4 L502.0,3064.4 L504.0,3064.4 L506.0,3064.4 L508.0,3064.4 L510.0,3064.4 L512.0,3064.4 L514.0,3064.4 L516.0,3064.4 L518.0,3064.4 L520.0,3064.4 L522.0,3064.4 L524.0,3064.4 L526.1,3064.4 L528.1,3064.4 L530.1,3064.4 L532.1,3064.4 L534.1,3064.4 L536.1,3064.4 L538.1,3064.4 L540.1,3064.4 L542.1,3064.4 L544.1,3064.4 L546.1,3064.4 L548.1,3064.4 L550.1,3064.4 L552.1,3064.4 L554.1,3064.4 L556.1,3064.4 L558.1,3064.4 L560.1,3064.4 L562.1,3064.4 L564.1,3064.4 L566.1,3064.4 L568.1,3064.4 L570.1,3064.4 L572.1,3064.4 L574.1,3064.4 L576.1,3064.4 L578.1,3064.4 L580.1,3064.4 L582.1,3064.4 L584.2,3064.4 L586.2,3064.4 L588.2,3064.4 L590.2,3064.4 L592.2,3064.4 L594.2,3064.4 L596.2,3064.4 L598.2,3064.4 L600.2,3064.4 L602.2,3064.4 L604.2,3064.4 L606.2,3064.4 L608.2,3064.4 L610.2,3064.4 L612.2,3064.4 L614.2,3064.4 L616.2,3064.4 L618.2,3064.4 L620.2,3064.4 L622.2,3064.4 L624.2,3064.4 L626.2,3064.4 L628.2,3064.4 L630.2,3064.4 L632.2,3064.4 L634.2,3064.4 L636.2,3064.4 L638.2,3064.4 L640.2,3064.4 L642.2,3064.4 L644.3,3064.4 L646.3,3064.4 L648.3,3064.4 L650.3,3064.4 L652.3,3064.4 L654.3,3064.4 L656.3,3064.4 L658.3,3064.4 L660.3,3064.4 L662.3,3064.4 L664.3,3064.4 L666.3,3064.4 L668.3,3064.4 L670.3,3064.4 L672.3,3064.4 L674.3,3064.4 L676.3,3064.4 L678.3,3064.4 L680.3,3064.4 L682.3,3064.4 L684.3,3064.4 L686.3,3064.4 L688.3,3064.4 L690.3,3064.4 L692.3,3064.4 L694.3,3064.4 L696.3,3064.4 L698.3,3064.4 L700.3,3064.4 L702.4,3064.4 L704.4,3064.4 L706.4,3064.4 L708.4,3064.4 L710.4,3064.4 L712.4,3064.4 L714.4,3064.4 L716.4,3064.4 L718.4,3064.4 L720.4,3064.4 L722.4,3064.4 L724.4,3064.4 L726.4,3064.4 L728.4,3064.4 L730.4,3064.4 L732.4,3064.4 L734.4,3064.4 L736.4,3064.4 L738.4,3064.4 L740.4,3064.4 L742.4,3064.4 L744.4,3064.4 L746.4,3064.4 L748.4,3064.4 L750.4,3064.4 L752.4,3064.4 L754.4,3064.4 L756.4,3064.4 L758.4,3064.4 L760.4,3064.4 L762.5,3064.4 L764.5,3064.4 L766.5,3064.4 L768.5,3064.4 L770.5,3064.4 L772.5,3064.4 L774.5,3064.4 L776.5,3064.4 L778.5,3064.4 L780.5,3064.4 L782.5,3064.5 L784.5,3064.6 L786.5,3064.7 L788.5,3064.8 L790.5,3064.9 L792.5,3065.0 L794.5,3065.2 L796.5,3065.4 L798.5,3065.6 L800.5,3065.9 L802.5,3066.1 L804.5,3066.4 L806.5,3066.7 L808.5,3067.0 L810.5,3067.3 L812.5,3067.7 L814.5,3068.0 L816.5,3068.4 L818.5,3068.8 L820.5,3069.3 L822.6,3069.7 L824.6,3070.2 L826.6,3070.6 L828.6,3071.1 L830.6,3071.7 L832.6,3072.2 L834.6,3072.8 L836.6,3073.3 L838.6,3073.9 L840.6,3074.5 L842.6,3075.2 L844.6,3075.8 L846.6,3076.5 L848.6,3077.2 L850.6,3077.9 L852.6,3078.6 L854.6,3079.3 L856.6,3080.1 L858.6,3080.8 L860.6,3081.6 L862.6,3082.4 L864.6,3083.2 L866.6,3084.1 L868.6,3084.9 L870.6,3085.8 L872.6,3086.6 L874.6,3087.5 L876.6,3088.4 L878.6,3089.3 L880.7,3090.3 L882.7,3091.2 L884.7,3092.2 L886.7,3093.2 L888.7,3094.1 L890.7,3095.1 L892.7,3096.2 L894.7,3097.2 L896.7,3098.2 L898.7,3099.3 L900.7,3100.3 L902.7,3101.4 L904.7,3102.5 L906.7,3103.6 L908.7,3104.7 L910.7,3105.8 L912.7,3106.9 L914.7,3108.1 L916.7,3109.2 L918.7,3110.3 L920.7,3111.5 L922.7,3112.7 L924.7,3113.9 L926.7,3115.0 L928.7,3116.2 L930.7,3117.4 L932.7,3118.7 L934.7,3119.9 L936.7,3121.1 L938.7,3122.3 L940.8,3123.6 L942.8,3124.8 L944.8,3126.0 L946.8,3127.3 L948.8,3128.5 L950.8,3129.8 L952.8,3131.1 L954.8,3132.3 L956.8,3133.6 L958.8,3134.9 L960.8,3136.2 L962.8,3137.4 L964.8,3138.7 L966.8,3140.0 L968.8,3141.3 L970.8,3142.6 L972.8,3143.9 L974.8,3145.2 L976.8,3146.4 L978.8,3147.7 L980.8,3149.0 L982.8,3150.3 L984.8,3151.6 L986.8,3152.9 L988.8,3154.2 L990.8,3155.4 L992.8,3156.7 L994.8,3158.0 L996.8,3159.3 L998.8,3160.5 L1000.9,3161.8 L1002.9,3163.1 L1004.9,3164.3 L1006.9,3165.6 L1008.9,3166.8 L1010.9,3168.1 L1012.9,3169.3 L1014.9,3170.6 L1016.9,3171.8 L1018.9,3173.0 L1020.9,3174.2 L1022.9,3175.4 L1024.9,3176.6 L1026.9,3177.8 L1028.9,3179.0 L1030.9,3180.2 L1032.9,3181.4 L1034.9,3182.5 L1036.9,3183.7 L1038.9,3184.8 L1040.9,3186.0 L1042.9,3187.1 L1044.9,3188.2 L1046.9,3189.3 L1048.9,3190.4 L1050.9,3191.5 L1052.9,3192.6 L1054.9,3193.6 L1056.9,3194.7 L1059.0,3195.7 L1061.0,3196.7 L1063.0,3197.7 L1065.0,3198.7 L1067.0,3199.7 L1069.0,3200.7 L1071.0,3201.7 L1073.0,3202.6 L1075.0,3203.5 L1077.0,3204.5 L1079.0,3205.4 L1081.0,3206.2 L1083.0,3207.1 L1085.0,3208.0 L1087.0,3208.8 L1089.0,3209.7 L1091.0,3210.5 L1093.0,3211.3 L1095.0,3212.0 L1097.0,3212.8 L1099.0,3213.6 L1101.0,3214.3 L1103.0,3215.0 L1105.0,3215.7 L1107.0,3216.4 L1109.0,3217.1 L1111.0,3217.7 L1113.0,3218.3 L1115.0,3218.9 L1117.0,3219.5 L1119.1,3220.1 L1121.1,3220.7 L1123.1,3221.2 L1125.1,3221.7 L1127.1,3222.2 L1129.1,3222.7 L1131.1,3223.2 L1133.1,3223.6 L1135.1,3224.1 L1137.1,3224.5 L1139.1,3224.9 L1141.1,3225.2 L1143.1,3225.6 L1145.1,3225.9 L1147.1,3226.2 L1149.1,3226.5 L1151.1,3226.8 L1153.1,3227.0 L1155.1,3227.3 L1157.1,3227.5 L1159.1,3227.7 L1161.1,3227.8 L1163.1,3228.0 L1165.1,3228.1 L1167.1,3228.2 L1169.1,3228.3 L1171.1,3228.4 L1173.1,3228.4 L1175.1,3228.5 L1177.2,3228.5 L1179.2,3228.5 L1181.2,3228.4 L1183.2,3228.3 L1185.2,3228.1 L1187.2,3227.9 L1189.2,3227.6 L1191.2,3227.3 L1193.2,3226.9 L1195.2,3226.5 L1197.2,3226.1 L1199.2,3225.6 L1201.2,3225.0 L1203.2,3224.4 L1205.2,3223.8 L1207.2,3223.1 L1209.2,3222.4 L1211.2,3221.6 L1213.2,3220.8 L1215.2,3220.0 L1217.2,3219.1 L1219.2,3218.2 L1221.2,3217.2 L1223.2,3216.2 L1225.2,3215.1 L1227.2,3214.1 L1229.2,3213.0 L1231.2,3211.8 L1233.2,3210.6 L1235.2,3209.4 L1237.3,3208.2 L1239.3,3206.9 L1241.3,3205.6 L1243.3,3204.3 L1245.3,3203.0 L1247.3,3201.6 L1249.3,3200.2 L1251.3,3198.8 L1253.3,3197.4 L1255.3,3195.9 L1257.3,3194.5 L1259.3,3193.0 L1261.3,3191.5 L1263.3,3190.0 L1265.3,3188.5 L1267.3,3187.0 L1269.3,3185.4 L1271.3,3183.9 L1273.3,3182.3 L1275.3,3180.8 L1277.3,3179.3 L1279.3,3177.7 L1281.3,3176.2 L1283.3,3174.6 L1285.3,3173.1 L1287.3,3171.6 L1289.3,3170.0 L1291.3,3168.5 L1293.3,3167.0 L1295.3,3165.5 L1297.4,3164.0 L1299.4,3162.6 L1301.4,3161.1 L1303.4,3159.7 L1305.4,3158.3 L1307.4,3156.9 L1309.4,3155.5 L1311.4,3154.2 L1313.4,3152.9 L1315.4,3151.6 L1317.4,3150.3 L1319.4,3149.1 L1321.4,3147.9 L1323.4,3146.7 L1325.4,3145.6 L1327.4,3144.5 L1329.4,3143.4 L1331.4,3142.3 L1333.4,3141.3 L1335.4,3140.4 L1337.4,3139.4 L1339.4,3138.5 L1341.4,3137.7 L1343.4,3136.9 L1345.4,3136.1 L1347.4,3135.4 L1349.4,3134.7 L1351.4,3134.1 L1353.4,3133.5 L1355.5,3132.9 L1357.5,3132.4 L1359.5,3132.0 L1361.5,3131.6 L1363.5,3131.2 L1365.5,3130.9 L1367.5,3130.6 L1369.5,3130.4 L1371.5,3130.3 L1373.5,3130.1 L1375.5,3130.1 L1377.5,3130.0 L1379.5,3130.0 L1381.5,3130.1 L1383.5,3130.1 L1385.5,3130.1 L1387.5,3130.1 L1389.5,3130.2 L1391.5,3130.2 L1393.5,3130.2 L1395.5,3130.3 L1397.5,3130.3 L1399.5,3130.4 L1401.5,3130.4 L1403.5,3130.5 L1405.5,3130.6 L1407.5,3130.6 L1409.5,3130.7 L1411.5,3130.8 L1413.5,3130.9 L1415.6,3131.0 L1417.6,3131.1 L1419.6,3131.2 L1421.6,3131.3 L1423.6,3131.4 L1425.6,3131.6 L1427.6,3131.7 L1429.6,3131.8 L1431.6,3132.0 L1433.6,3132.1 L1435.6,3132.3 L1437.6,3132.4 L1439.6,3132.6 L1441.6,3132.7 L1443.6,3132.9 L1445.6,3133.1 L1447.6,3133.2 L1449.6,3133.4 L1451.6,3133.6 L1453.6,3133.8 L1455.6,3134.0 L1457.6,3134.2 L1459.6,3134.4 L1461.6,3134.6 L1463.6,3134.9 L1465.6,3135.1 L1467.6,3135.3 L1469.6,3135.5 L1471.6,3135.7 L1473.6,3135.9 L1475.7,3136.1 L1477.7,3136.2 L1479.7,3136.3 L1481.7,3136.4 L1483.7,3136.5 L1485.7,3136.4 L1487.7,3136.4 L1489.7,3136.2 L1491.7,3136.0 L1493.7,3135.7 L1495.7,3135.3 L1497.7,3134.7 L1499.7,3134.0 L1501.7,3133.2 L1503.7,3132.1 L1505.7,3130.8 L1507.7,3129.3 L1509.7,3127.5 L1511.7,3125.4 L1513.7,3122.9 L1515.7,3120.2 L1517.7,3117.0 L1519.7,3113.5 L1521.7,3109.5 L1523.7,3105.2 L1525.7,3100.4 L1527.7,3095.1 L1529.7,3089.4 L1531.7,3083.3 L1533.8,3076.7 L1535.8,3069.7 L1537.8,3062.4 L1539.8,3054.7 L1541.8,3046.8 L1543.8,3038.6 L1545.8,3030.2 L1547.8,3021.8 L1549.8,3013.3 L1551.8,3004.9 L1553.8,2996.6 L1555.8,2988.5 L1557.8,2980.8 L1559.8,2973.5 L1561.8,2966.8 L1563.8,2960.6 L1565.8,2955.1 L1567.8,2950.4 L1569.8,2946.6 L1571.8,2943.6 L1573.8,2941.5 L1575.8,2940.4 L1577.8,2940.3 L1579.8,2941.3 L1581.8,2943.2 L1583.8,2946.1 L1585.8,2950.0 L1587.8,2954.7 L1589.8,2960.3 L1591.8,2966.7 L1593.9,2973.8 L1595.9,2981.6 L1597.9,2989.8 L1599.9,2998.5 L1601.9,3007.6 L1603.9,3016.9 L1605.9,3026.4 L1607.9,3036.0 L1609.9,3045.6 L1611.9,3055.0 L1613.9,3064.3 L1615.9,3073.4 L1617.9,3082.3 L1619.9,3090.7 L1621.9,3098.9 L1623.9,3106.6 L1625.9,3113.9 L1627.9,3120.7 L1629.9,3127.1 L1631.9,3133.1 L1633.9,3138.6 L1635.9,3143.7 L1637.9,3148.4 L1639.9,3152.6 L1641.9,3156.5 L1643.9,3160.0 L1645.9,3163.2 L1647.9,3166.1 L1649.9,3168.7 L1651.9,3171.0 L1654.0,3173.1 L1656.0,3175.0 L1658.0,3176.7 L1660.0,3178.3 L1662.0,3179.6 L1664.0,3180.9 L1666.0,3182.1 L1668.0,3183.1 L1670.0,3184.1 L1672.0,3185.0 L1674.0,3185.9 L1676.0,3186.7 L1678.0,3187.4 L1680.0,3188.1 L1682.0,3188.8 L1684.0,3189.5 L1686.0,3190.2 L1688.0,3190.8 L1690.0,3191.5 L1692.0,3192.1 L1694.0,3192.7 L1696.0,3193.3 L1698.0,3194.0 L1700.0,3194.6 L1702.0,3195.2 L1704.0,3195.8 L1706.0,3196.4 L1708.0,3197.0 L1710.0,3197.6 L1712.1,3198.3 L1714.1,3198.9 L1716.1,3199.5 L1718.1,3200.1 L1720.1,3200.7 L1722.1,3201.3 L1724.1,3201.9 L1726.1,3202.5 L1728.1,3203.1 L1730.1,3203.7 L1732.1,3204.3 L1734.1,3204.9 L1736.1,3205.5 L1738.1,3206.1 L1740.1,3206.7 L1742.1,3207.3 L1744.1,3207.9 L1746.1,3208.5 L1748.1,3209.1 L1750.1,3209.7 L1752.1,3210.3 L1754.1,3210.9 L1756.1,3211.5 L1758.1,3212.1 L1760.1,3212.7 L1762.1,3213.3 L1764.1,3213.8 L1766.1,3214.4 L1768.1,3215.0 L1770.1,3215.5 L1772.2,3216.1 L1774.2,3216.6 L1776.2,3217.2 L1778.2,3217.7 L1780.2,3218.3 L1782.2,3218.8 L1784.2,3219.4 L1786.2,3219.9 L1788.2,3220.4 L1790.2,3221.0 L1792.2,3221.5 L1794.2,3222.1 L1796.2,3222.6 L1798.2,3223.1 L1800.2,3223.7 L1802.2,3224.2 L1804.2,3224.7 L1806.2,3225.3 L1808.2,3225.8 L1810.2,3226.3 L1812.2,3226.9 L1814.2,3227.4 L1816.2,3227.9 L1818.2,3228.5 L1820.2,3229.0 L1822.2,3229.6 L1824.2,3230.1 L1826.2,3230.6 L1828.2,3231.1 L1830.3,3231.7 L1832.3,3232.2 L1834.3,3232.7 L1836.3,3233.2 L1838.3,3233.7 L1840.3,3234.2 L1842.3,3234.7 L1844.3,3235.2 L1846.3,3235.7 L1848.3,3236.1 L1850.3,3236.6 L1852.3,3237.1 L1854.3,3237.5 L1856.3,3238.0 L1858.3,3238.4 L1860.3,3238.9 L1862.3,3239.4 L1864.3,3239.8 L1866.3,3240.2 L1868.3,3240.7 L1870.3,3241.1 L1872.3,3241.5 L1874.3,3242.0 L1876.3,3242.4 L1878.3,3242.8 L1880.3,3243.2 L1882.3,3243.6 L1884.3,3244.0 L1886.3,3244.4 L1888.3,3244.8 L1890.4,3245.2 L1892.4,3245.5 L1894.4,3245.9 L1896.4,3246.3 L1898.4,3246.6 L1900.4,3247.0 L1902.4,3247.3 L1904.4,3247.7 L1906.4,3248.0 L1908.4,3248.4 L1910.4,3248.7 L1912.4,3249.1 L1914.4,3249.4 L1916.4,3249.8 L1918.4,3250.1 L1920.4,3250.5 L1922.4,3250.8 L1924.4,3251.2 L1926.4,3251.5 L1928.4,3251.9 L1930.4,3252.3 L1932.4,3252.6 L1934.4,3253.0 L1936.4,3253.4 L1938.4,3253.7 L1940.4,3254.1 L1942.4,3254.5 L1944.4,3254.9 L1946.4,3255.2 L1948.4,3255.6 L1950.5,3256.0 L1952.5,3256.4 L1954.5,3256.7 L1956.5,3257.1 L1958.5,3257.5 L1960.5,3257.9 L1962.5,3258.2 L1964.5,3258.6 L1966.5,3259.0 L1968.5,3259.4 L1970.5,3259.8 L1972.5,3260.1 L1974.5,3260.5 L1976.5,3260.9 L1978.5,3261.3" fill="none" stroke="#000" stroke-width="11.4" stroke-linejoin="round" stroke-linecap="butt"/>
<path d="M1457.6,3134.2 L1458.6,3134.3 L1459.6,3134.4 L1460.6,3134.6 L1461.6,3134.7 L1462.6,3134.8 L1463.6,3134.9 L1464.6,3135.0 L1465.6,3135.1 L1466.6,3135.3 L1467.6,3135.4 L1468.6,3135.5 L1469.6,3135.6 L1470.6,3135.7 L1471.6,3135.8 L1472.6,3135.9 L1473.6,3136.1 L1474.7,3136.2 L1475.7,3136.3 L1476.7,3136.4 L1477.7,3136.5 L1478.7,3136.6 L1479.7,3136.7 L1480.7,3136.8 L1481.7,3136.8 L1482.7,3136.9 L1483.7,3137.0 L1484.7,3137.1 L1485.7,3137.1 L1486.7,3137.2 L1487.7,3137.2 L1488.7,3137.2 L1489.7,3137.2 L1490.7,3137.3 L1491.7,3137.3 L1492.7,3137.2 L1493.7,3137.2 L1494.7,3137.2 L1495.7,3137.1 L1496.7,3137.0 L1497.7,3136.9 L1498.7,3136.8 L1499.7,3136.6 L1500.7,3136.5 L1501.7,3136.3 L1502.7,3136.0 L1503.7,3135.8 L1504.7,3135.5 L1505.7,3135.1 L1506.7,3134.8 L1507.7,3134.4 L1508.7,3133.9 L1509.7,3133.4 L1510.7,3132.9 L1511.7,3132.3 L1512.7,3131.7 L1513.7,3131.0 L1514.7,3130.3 L1515.7,3129.5 L1516.7,3128.7 L1517.7,3127.8 L1518.7,3126.8 L1519.7,3125.8 L1520.7,3124.7 L1521.7,3123.6 L1522.7,3122.3 L1523.7,3121.1 L1524.7,3119.7 L1525.7,3118.3 L1526.7,3116.8 L1527.7,3115.3 L1528.7,3113.7 L1529.7,3112.0 L1530.7,3110.2 L1531.7,3108.4 L1532.7,3106.5 L1533.8,3104.6 L1534.8,3102.6 L1535.8,3100.5 L1536.8,3098.4 L1537.8,3096.2 L1538.8,3094.0 L1539.8,3091.7 L1540.8,3089.4 L1541.8,3087.0 L1542.8,3084.6 L1543.8,3082.2 L1544.8,3079.8 L1545.8,3077.3 L1546.8,3074.8 L1547.8,3072.3 L1548.8,3069.8 L1549.8,3067.3 L1550.8,3064.8 L1551.8,3062.3 L1552.8,3059.9 L1553.8,3057.5 L1554.8,3055.1 L1555.8,3052.7 L1556.8,3050.4 L1557.8,3048.2 L1558.8,3046.0 L1559.8,3043.9 L1560.8,3041.9 L1561.8,3040.0 L1562.8,3038.1 L1563.8,3036.4 L1564.8,3034.8 L1565.8,3033.2 L1566.8,3031.8 L1567.8,3030.6 L1568.8,3029.4 L1569.8,3028.4 L1570.8,3027.5 L1571.8,3026.7 L1572.8,3026.1 L1573.8,3025.7 L1574.8,3025.4 L1575.8,3025.2 L1576.8,3025.2 L1577.8,3025.4 L1578.8,3025.7 L1579.8,3026.1 L1580.8,3026.8 L1581.8,3027.5 L1582.8,3028.4 L1583.8,3029.5 L1584.8,3030.7 L1585.8,3032.1 L1586.8,3033.6 L1587.8,3035.2 L1588.8,3037.0 L1589.8,3038.9 L1590.8,3040.9 L1591.8,3043.0 L1592.9,3045.2 L1593.9,3047.6 L1594.9,3050.0 L1595.9,3052.5 L1596.9,3055.1 L1597.9,3057.8 L1598.9,3060.6 L1599.9,3063.4 L1600.9,3066.2 L1601.9,3069.2 L1602.9,3072.1 L1603.9,3075.1 L1604.9,3078.1 L1605.9,3081.1 L1606.9,3084.2 L1607.9,3087.2 L1608.9,3090.3 L1609.9,3093.3 L1610.9,3096.3 L1611.9,3099.3 L1612.9,3102.3 L1613.9,3105.3 L1614.9,3108.2 L1615.9,3111.1 L1616.9,3113.9 L1617.9,3116.7 L1618.9,3119.4 L1619.9,3122.1 L1620.9,3124.7 L1621.9,3127.3 L1622.9,3129.8 L1623.9,3132.3 L1624.9,3134.6 L1625.9,3137.0 L1626.9,3139.2 L1627.9,3141.4 L1628.9,3143.5 L1629.9,3145.5 L1630.9,3147.5 L1631.9,3149.4 L1632.9,3151.2 L1633.9,3153.0 L1634.9,3154.7 L1635.9,3156.3 L1636.9,3157.9 L1637.9,3159.4 L1638.9,3160.9 L1639.9,3162.3 L1640.9,3163.6 L1641.9,3164.8 L1642.9,3166.1 L1643.9,3167.2 L1644.9,3168.3 L1645.9,3169.4 L1646.9,3170.4 L1647.9,3171.4 L1648.9,3172.3 L1649.9,3173.2 L1650.9,3174.0 L1651.9,3174.8 L1653.0,3175.6 L1654.0,3176.3 L1655.0,3177.0 L1656.0,3177.7 L1657.0,3178.3 L1658.0,3179.0 L1659.0,3179.6 L1660.0,3180.1 L1661.0,3180.7 L1662.0,3181.2 L1663.0,3181.7 L1664.0,3182.2 L1665.0,3182.7 L1666.0,3183.1 L1667.0,3183.6 L1668.0,3184.0 L1669.0,3184.4 L1670.0,3184.8 L1671.0,3185.2 L1672.0,3185.6 L1673.0,3185.9 L1674.0,3186.3 L1675.0,3186.7 L1676.0,3187.0 L1677.0,3187.4 L1678.0,3187.7 L1679.0,3188.0 L1680.0,3188.4 L1681.0,3188.7 L1682.0,3189.0 L1683.0,3189.3 L1684.0,3189.7 L1685.0,3190.0 L1686.0,3190.3 L1687.0,3190.6 L1688.0,3190.9 L1689.0,3191.2 L1690.0,3191.5 L1691.0,3191.8 L1692.0,3192.1 L1693.0,3192.4 L1694.0,3192.8 L1695.0,3193.1 L1696.0,3193.4 L1697.0,3193.7 L1698.0,3194.0" fill="none" stroke="#000" stroke-width="11.4" stroke-linejoin="round" stroke-dasharray="10.8 17.8" stroke-dashoffset="9.3"/>
<path d="M375.8,2520.5 L378.8,2521.0 L381.8,2521.5 L384.8,2522.0 L387.9,2522.6 L390.9,2523.1 L393.9,2523.6 L396.9,2524.2 L399.9,2524.7 L402.9,2525.2 L405.9,2525.8 L408.9,2526.4 L412.0,2526.9 L415.0,2527.5 L418.0,2528.1 L421.0,2528.7 L424.0,2529.3 L427.0,2529.9 L430.0,2530.5 L433.0,2531.1 L436.1,2531.7 L439.1,2532.4 L442.1,2533.0 L445.1,2533.6 L448.1,2534.3 L451.1,2534.9 L454.1,2535.6 L457.2,2536.3 L460.2,2537.0 L463.2,2537.7 L466.2,2538.4 L469.2,2539.1 L472.2,2539.8 L475.2,2540.5 L478.2,2541.2 L481.3,2542.0 L484.3,2542.7 L487.3,2543.5 L490.3,2544.2 L493.3,2545.0 L496.3,2545.8 L499.3,2546.6 L502.3,2547.4 L505.4,2548.2 L508.4,2549.0 L511.4,2549.8 L514.4,2550.7 L517.4,2551.5 L520.4,2552.4 L523.4,2553.2 L526.5,2554.1 L529.5,2555.0 L532.5,2555.9 L535.5,2556.8 L538.5,2557.7 L541.5,2558.6 L544.5,2559.5 L547.5,2560.5 L550.6,2561.4 L553.6,2562.4 L556.6,2563.4 L559.6,2564.4 L562.6,2565.4 L565.6,2566.4 L568.6,2567.4 L571.6,2568.4 L574.7,2569.5 L577.7,2570.5 L580.7,2571.6 L583.7,2572.7 L586.7,2573.8 L589.7,2574.9 L592.7,2576.0 L595.8,2577.1 L598.8,2578.2 L601.8,2579.4 L604.8,2580.5 L607.8,2581.7 L610.8,2582.9 L613.8,2584.1 L616.8,2585.3 L619.9,2586.5 L622.9,2587.8 L625.9,2589.0 L628.9,2590.3 L631.9,2591.6 L634.9,2592.8 L637.9,2594.1 L640.9,2595.5 L644.0,2596.8 L647.0,2598.1 L650.0,2599.5 L653.0,2600.9 L656.0,2602.2 L659.0,2603.6 L662.0,2605.0 L665.1,2606.5 L668.1,2607.9 L671.1,2609.4 L674.1,2610.8 L677.1,2612.3 L680.1,2613.8 L683.1,2615.3 L686.1,2616.8 L689.2,2618.4 L692.2,2619.9 L695.2,2621.5 L698.2,2623.1 L701.2,2624.7 L704.2,2626.3 L707.2,2627.9 L710.2,2629.6 L713.3,2631.2 L716.3,2632.9 L719.3,2634.6 L722.3,2636.3 L725.3,2638.0 L728.3,2639.8 L731.3,2641.5 L734.3,2643.3 L737.4,2645.1 L740.4,2646.9 L743.4,2648.7 L746.4,2650.6 L749.4,2652.4 L752.4,2654.3 L755.4,2656.2 L758.5,2658.1 L761.5,2660.0 L764.5,2662.0 L767.5,2663.9 L770.5,2665.9 L773.5,2667.9 L776.5,2669.9 L779.5,2671.9 L782.6,2674.0 L785.6,2676.0 L788.6,2678.1 L791.6,2680.2 L794.6,2682.3 L797.6,2684.5 L800.6,2686.6 L803.6,2688.8 L806.7,2691.0 L809.7,2693.2 L812.7,2695.4 L815.7,2697.7 L818.7,2699.9 L821.7,2702.2 L824.7,2704.5 L827.8,2706.9 L830.8,2709.2 L833.8,2711.6 L836.8,2713.9 L839.8,2716.3 L842.8,2718.8 L845.8,2721.2 L848.8,2723.7 L851.9,2726.1 L854.9,2728.6 L857.9,2731.2 L860.9,2733.7 L863.9,2736.3 L866.9,2738.8 L869.9,2741.4 L872.9,2744.1 L876.0,2746.7 L879.0,2749.4 L882.0,2752.0 L885.0,2754.8 L888.0,2757.5 L891.0,2760.2 L894.0,2763.0 L897.1,2765.8 L900.1,2768.6 L903.1,2771.4 L906.1,2774.3 L909.1,2777.2 L912.1,2780.1 L915.1,2783.0 L918.1,2785.9 L921.2,2788.9 L924.2,2791.9 L927.2,2794.9 L930.2,2797.9 L933.2,2800.9 L936.2,2804.0 L939.2,2807.1 L942.2,2810.2 L945.3,2813.4 L948.3,2816.5 L951.3,2819.7 L954.3,2822.9 L957.3,2826.2 L960.3,2829.4 L963.3,2832.7 L966.4,2836.0 L969.4,2839.4 L972.4,2842.7 L975.4,2846.1 L978.4,2849.5 L981.4,2852.9 L984.4,2856.3 L987.4,2859.8 L990.5,2863.3 L993.5,2866.8 L996.5,2870.4 L999.5,2873.9 L1002.5,2877.5 L1005.5,2881.2 L1008.5,2884.8 L1011.5,2888.5 L1014.6,2892.2 L1017.6,2895.9 L1020.6,2899.6 L1023.6,2903.4 L1024.8,2904.8 L1057.0,2905.7 L1240.0,2908.7 L1400.0,2910.1 L1480.9,2910.6 L1490.8,2910.5 L1501.0,2909.1 L1509.1,2909.8 L1517.7,2908.1 L1528.5,2906.2 L1539.3,2903.3 L1546.8,2900.3 L1553.3,2896.0 L1558.7,2891.4 L1563.0,2889.2 L1567.3,2890.1 L1571.6,2894.9 L1574.9,2903.5 L1577.6,2914.3 L1580.8,2924.0 L1584.0,2929.4 L1587.8,2931.4 L1598.6,2931.6 L1640.0,2931.1 L1700.0,2930.7 L1860.0,2929.9 L1938.5,2929.8 L1938.5,2959.1 L1870.0,2957.2 L1804.3,2955.2 L1745.0,2953.0 L1700.0,2951.0 L1670.0,2949.4 L1651.4,2948.1 L1640.0,2947.2 L1631.0,2945.6 L1620.2,2944.2 L1609.4,2942.8 L1598.6,2941.2 L1590.0,2938.3 L1585.5,2934.3 L1583.7,2931.8" fill="none" stroke="#4682b4" stroke-width="10.7" stroke-linejoin="miter" stroke-miterlimit="4" stroke-linecap="butt"/>
</g>
<rect x="375.8" y="2276.8" width="1602.7" height="984.5" fill="none" stroke="#000" stroke-width="5.8"/>
<line x1="350.3" x2="375.8" y1="2440.9" y2="2440.9" stroke="#000" stroke-width="5.8"/>
<text x="332.0" y="2464.8" font-size="72.5" text-anchor="end">1500</text>
<line x1="350.3" x2="375.8" y1="2605.0" y2="2605.0" stroke="#000" stroke-width="5.8"/>
<text x="332.0" y="2628.9" font-size="72.5" text-anchor="end">1000</text>
<line x1="350.3" x2="375.8" y1="2769.1" y2="2769.1" stroke="#000" stroke-width="5.8"/>
<text x="332.0" y="2792.9" font-size="72.5" text-anchor="end">500</text>
<line x1="350.3" x2="375.8" y1="2933.1" y2="2933.1" stroke="#000" stroke-width="5.8"/>
<text x="332.0" y="2957.0" font-size="72.5" text-anchor="end">0</text>
<line x1="350.3" x2="375.8" y1="3097.2" y2="3097.2" stroke="#000" stroke-width="5.8"/>
<text x="332.0" y="3121.1" font-size="72.5" text-anchor="end">−500</text>
<line x1="381.6" x2="381.6" y1="3274.0" y2="3283.6" stroke="#000" stroke-width="6.2"/>
<text x="381.6" y="3362.8" font-size="72.5" text-anchor="middle">0</text>
<line x1="782.3" x2="782.3" y1="3274.0" y2="3283.6" stroke="#000" stroke-width="6.2"/>
<text x="782.3" y="3362.8" font-size="72.5" text-anchor="middle">200</text>
<line x1="1183.0" x2="1183.0" y1="3274.0" y2="3283.6" stroke="#000" stroke-width="6.2"/>
<text x="1183.0" y="3362.8" font-size="72.5" text-anchor="middle">400</text>
<line x1="1583.6" x2="1583.6" y1="3274.0" y2="3283.6" stroke="#000" stroke-width="6.2"/>
<text x="1583.6" y="3362.8" font-size="72.5" text-anchor="middle">600</text>
<line x1="1984.3" x2="1984.3" y1="3258.3" y2="3283.6" stroke="#000" stroke-width="6.2"/>
<text x="1984.3" y="3362.8" font-size="72.5" text-anchor="middle">800</text>
<text transform="translate(90.7,2765.6) rotate(-90)" font-size="72.0" text-anchor="middle">Elevation (m)</text>
<text x="12.4" y="91.0" font-size="86.0" class="h">(a)</text>
<text x="14.0" y="1211.5" font-size="86.0" class="h">(b)</text>
<text x="12.4" y="2331.5" font-size="86.0" class="h">(c)</text>
<text x="931.2" y="122.0" font-size="72.0" class="bi">D</text>
<text x="991.3" y="136.8" font-size="47.3" class="b">BD</text>
<text x="1091.3" y="122.0" font-size="72.0" class="b">= 675 m</text>
<text x="931.2" y="1252.8" font-size="72.0" class="bi">D</text>
<text x="991.3" y="1267.6" font-size="47.3" class="b">BD</text>
<text x="1091.3" y="1252.8" font-size="72.0" class="b">= 750 m</text>
<text x="1632.7" y="1252.8" font-size="72.0" class="b">Lock in</text>
<text x="931.2" y="2383.8" font-size="72.0" class="bi">D</text>
<text x="991.3" y="2398.6" font-size="47.3" class="b">BD</text>
<text x="1091.3" y="2383.8" font-size="72.0" class="b">= 900 m</text>
<text x="1632.7" y="2383.8" font-size="72.0" class="b">Lock in</text>
<line x1="1378.1" x2="1532.0" y1="214.4" y2="214.4" stroke="#808080" stroke-width="10.7"/>
<text x="1584.0" y="239.2" font-size="72.0">Initial</text>
<line x1="1379.5" x2="1523.4" y1="319.5" y2="319.5" stroke="#dc143c" stroke-width="10.7" stroke-dasharray="10.75 17.82"/>
<text x="1580.5" y="343.2" font-size="72.0">Un-pinned</text>
<line x1="1380.0" x2="1533.9" y1="436.0" y2="436.0" stroke="#4682b4" stroke-width="10.7"/>
<text x="1586.0" y="460.4" font-size="72.0">Final</text>
<text x="1182.3" y="3460.8" font-size="72.0" text-anchor="middle">x (km)</text>
</svg>
</body></html>
